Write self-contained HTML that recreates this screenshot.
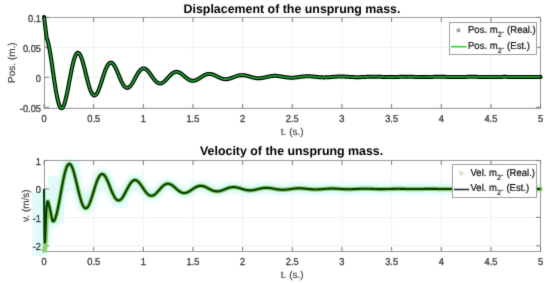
<!DOCTYPE html>
<html><head><meta charset="utf-8"><style>
html,body{margin:0;padding:0;background:#fff;width:550px;height:283px;overflow:hidden}
svg{display:block;text-rendering:geometricPrecision;transform:translateZ(0);will-change:transform}
</style></head><body>
<svg width="550" height="283" viewBox="0 0 550 283" font-family='"Liberation Sans", sans-serif'><defs><filter id="sf" x="0" y="0" width="100%" height="100%" color-interpolation-filters="sRGB"><feConvolveMatrix order="3" kernelMatrix="0.0113 0.0838 0.0113 0.0838 0.6193 0.0838 0.0113 0.0838 0.0113" edgeMode="duplicate"/></filter></defs><g filter="url(#sf)"><rect width="550" height="283" fill="#fff"/><line x1="93.70" y1="17.5" x2="93.70" y2="108.5" stroke="#f3f3f3" stroke-width="1"/><line x1="143.35" y1="17.5" x2="143.35" y2="108.5" stroke="#f3f3f3" stroke-width="1"/><line x1="193.00" y1="17.5" x2="193.00" y2="108.5" stroke="#f3f3f3" stroke-width="1"/><line x1="242.65" y1="17.5" x2="242.65" y2="108.5" stroke="#f3f3f3" stroke-width="1"/><line x1="292.30" y1="17.5" x2="292.30" y2="108.5" stroke="#f3f3f3" stroke-width="1"/><line x1="341.95" y1="17.5" x2="341.95" y2="108.5" stroke="#f3f3f3" stroke-width="1"/><line x1="391.60" y1="17.5" x2="391.60" y2="108.5" stroke="#f3f3f3" stroke-width="1"/><line x1="441.25" y1="17.5" x2="441.25" y2="108.5" stroke="#f3f3f3" stroke-width="1"/><line x1="490.90" y1="17.5" x2="490.90" y2="108.5" stroke="#f3f3f3" stroke-width="1"/><line x1="44.5" y1="47.30" x2="540.5" y2="47.30" stroke="#efefef" stroke-width="1"/><line x1="44.5" y1="77.30" x2="540.5" y2="77.30" stroke="#efefef" stroke-width="1"/><line x1="44.5" y1="107.30" x2="540.5" y2="107.30" stroke="#efefef" stroke-width="1"/><rect x="44.5" y="17.5" width="496.0" height="91.0" fill="none" stroke="#9c9c9c" stroke-width="1"/><line x1="44.05" y1="108.5" x2="44.05" y2="104.0" stroke="#7c7c7c" stroke-width="1"/><line x1="44.05" y1="17.5" x2="44.05" y2="22.0" stroke="#7c7c7c" stroke-width="1"/><line x1="93.70" y1="108.5" x2="93.70" y2="104.0" stroke="#7c7c7c" stroke-width="1"/><line x1="93.70" y1="17.5" x2="93.70" y2="22.0" stroke="#7c7c7c" stroke-width="1"/><line x1="143.35" y1="108.5" x2="143.35" y2="104.0" stroke="#7c7c7c" stroke-width="1"/><line x1="143.35" y1="17.5" x2="143.35" y2="22.0" stroke="#7c7c7c" stroke-width="1"/><line x1="193.00" y1="108.5" x2="193.00" y2="104.0" stroke="#7c7c7c" stroke-width="1"/><line x1="193.00" y1="17.5" x2="193.00" y2="22.0" stroke="#7c7c7c" stroke-width="1"/><line x1="242.65" y1="108.5" x2="242.65" y2="104.0" stroke="#7c7c7c" stroke-width="1"/><line x1="242.65" y1="17.5" x2="242.65" y2="22.0" stroke="#7c7c7c" stroke-width="1"/><line x1="292.30" y1="108.5" x2="292.30" y2="104.0" stroke="#7c7c7c" stroke-width="1"/><line x1="292.30" y1="17.5" x2="292.30" y2="22.0" stroke="#7c7c7c" stroke-width="1"/><line x1="341.95" y1="108.5" x2="341.95" y2="104.0" stroke="#7c7c7c" stroke-width="1"/><line x1="341.95" y1="17.5" x2="341.95" y2="22.0" stroke="#7c7c7c" stroke-width="1"/><line x1="391.60" y1="108.5" x2="391.60" y2="104.0" stroke="#7c7c7c" stroke-width="1"/><line x1="391.60" y1="17.5" x2="391.60" y2="22.0" stroke="#7c7c7c" stroke-width="1"/><line x1="441.25" y1="108.5" x2="441.25" y2="104.0" stroke="#7c7c7c" stroke-width="1"/><line x1="441.25" y1="17.5" x2="441.25" y2="22.0" stroke="#7c7c7c" stroke-width="1"/><line x1="490.90" y1="108.5" x2="490.90" y2="104.0" stroke="#7c7c7c" stroke-width="1"/><line x1="490.90" y1="17.5" x2="490.90" y2="22.0" stroke="#7c7c7c" stroke-width="1"/><line x1="540.55" y1="108.5" x2="540.55" y2="104.0" stroke="#7c7c7c" stroke-width="1"/><line x1="540.55" y1="17.5" x2="540.55" y2="22.0" stroke="#7c7c7c" stroke-width="1"/><line x1="44.5" y1="17.30" x2="49.0" y2="17.30" stroke="#7c7c7c" stroke-width="1"/><line x1="540.5" y1="17.30" x2="536.0" y2="17.30" stroke="#7c7c7c" stroke-width="1"/><line x1="44.5" y1="47.30" x2="49.0" y2="47.30" stroke="#7c7c7c" stroke-width="1"/><line x1="540.5" y1="47.30" x2="536.0" y2="47.30" stroke="#7c7c7c" stroke-width="1"/><line x1="44.5" y1="77.30" x2="49.0" y2="77.30" stroke="#7c7c7c" stroke-width="1"/><line x1="540.5" y1="77.30" x2="536.0" y2="77.30" stroke="#7c7c7c" stroke-width="1"/><line x1="44.5" y1="107.30" x2="49.0" y2="107.30" stroke="#7c7c7c" stroke-width="1"/><line x1="540.5" y1="107.30" x2="536.0" y2="107.30" stroke="#7c7c7c" stroke-width="1"/><path d="M44.05 17.10L44.10 17.49L44.15 17.88L44.20 18.27L44.25 18.66L44.30 19.05L44.35 19.44L44.40 19.84L44.45 20.23L44.50 20.63L44.55 21.03L44.60 21.43L44.65 21.82L44.70 22.22L44.75 22.62L44.80 23.03L44.85 23.43L44.90 23.83L44.95 24.23L45.00 24.64L45.05 25.04L45.10 25.44L45.15 25.85L45.20 26.25L45.25 26.66L45.30 27.06L45.35 27.47L45.40 27.87L45.45 28.27L45.50 28.68L45.55 29.08L45.60 29.48L45.65 29.88L45.70 30.28L45.75 30.68L45.80 31.08L45.85 31.48L45.90 31.87L45.95 32.26L46.00 32.66L46.05 33.04L46.10 33.43L46.15 33.81L46.20 34.19L46.25 34.57L46.30 34.94L46.35 35.31L46.40 35.67L46.45 36.03L46.50 36.38L46.54 36.72L46.59 37.06L46.64 37.38L46.69 37.69L46.74 37.98L46.79 38.25L46.84 38.44L46.89 38.56L46.94 38.69L46.99 38.82L47.04 38.95L47.09 39.09L47.14 39.23L47.19 39.37L47.24 39.52L47.29 39.67L47.34 39.82L47.39 39.98L47.44 40.14L47.49 40.30L47.54 40.47L47.59 40.64L47.64 40.81L47.69 40.98L47.74 41.16L47.79 41.34L47.84 41.53L47.89 41.71L47.94 41.90L47.99 42.09L48.04 42.29L48.09 42.49L48.14 42.69L48.19 42.89L48.24 43.10L48.29 43.31L48.34 43.52L48.39 43.74L48.44 43.95L48.49 44.17L48.54 44.40L48.59 44.62L48.64 44.85L48.69 45.08L48.74 45.32L48.79 45.55L48.84 45.79L48.89 46.03L48.94 46.27L48.99 46.52L49.04 46.77L49.09 47.02L49.14 47.27L49.19 47.53L49.24 47.78L49.29 48.04L49.34 48.31L49.39 48.57L49.44 48.84L49.49 49.11L49.54 49.38L49.59 49.65L49.64 49.92L49.69 50.20L49.74 50.48L49.79 50.76L49.84 51.04L49.89 51.33L49.94 51.61L49.99 51.90L50.04 52.19L50.09 52.49L50.14 52.78L50.19 53.07L50.24 53.37L50.29 53.67L50.34 53.97L50.39 54.27L50.44 54.58L50.49 54.88L50.54 55.19L50.59 55.50L50.64 55.81L50.69 56.12L50.74 56.43L50.79 56.75L50.84 57.06L50.89 57.38L50.94 57.70L50.99 58.02L51.04 58.34L51.09 58.66L51.14 58.98L51.19 59.31L51.24 59.63L51.29 59.96L51.34 60.29L51.39 60.62L51.44 60.94L51.49 61.27L51.53 61.61L51.58 61.94L51.63 62.27L51.68 62.60L51.73 62.94L51.78 63.27L51.83 63.61L51.88 63.95L51.93 64.28L51.98 64.62L52.03 64.96L52.08 65.30L52.13 65.64L52.18 65.98L52.23 66.32L52.28 66.66L52.33 67.00L52.38 67.35L52.43 67.69L52.48 68.03L52.53 68.37L52.58 68.72L52.63 69.06L52.68 69.40L52.73 69.75L52.78 70.09L52.83 70.43L52.88 70.78L52.93 71.12L52.98 71.46L53.03 71.81L53.08 72.15L53.13 72.49L53.18 72.84L53.23 73.18L53.28 73.52L53.33 73.87L53.38 74.21L53.43 74.55L53.48 74.89L53.53 75.23L53.58 75.58L53.63 75.92L53.68 76.26L53.73 76.60L53.78 76.94L53.83 77.27L53.88 77.61L53.93 77.95L53.98 78.29L54.30 80.46L54.63 82.60L54.95 84.69L55.28 86.74L55.60 88.72L55.93 90.64L56.25 92.48L56.58 94.25L56.90 95.93L57.23 97.52L57.55 99.01L57.88 100.41L58.20 101.69L58.52 102.87L58.85 103.94L59.17 104.89L59.50 105.72L59.82 106.44L60.15 107.03L60.47 107.50L60.80 107.85L61.12 108.07L61.45 108.17L61.77 108.15L62.09 108.01L62.42 107.75L62.74 107.37L63.07 106.88L63.39 106.28L63.72 105.57L64.04 104.76L64.37 103.85L64.69 102.84L65.02 101.75L65.34 100.56L65.67 99.30L65.99 97.97L66.31 96.57L66.64 95.11L66.96 93.59L67.29 92.02L67.61 90.41L67.94 88.77L68.26 87.09L68.59 85.40L68.91 83.68L69.24 81.96L69.56 80.24L69.89 78.52L70.21 76.82L70.53 75.13L70.86 73.46L71.18 71.83L71.51 70.23L71.83 68.68L72.16 67.17L72.48 65.72L72.81 64.32L73.13 62.99L73.46 61.72L73.78 60.52L74.10 59.41L74.43 58.37L74.75 57.41L75.08 56.53L75.40 55.75L75.73 55.05L76.05 54.45L76.38 53.94L76.70 53.52L77.03 53.20L77.35 52.97L77.68 52.84L78.00 52.80L78.32 52.86L78.65 53.00L78.97 53.24L79.30 53.57L79.62 53.98L79.95 54.48L80.27 55.06L80.60 55.72L80.92 56.45L81.25 57.26L81.57 58.13L81.90 59.06L82.22 60.06L82.54 61.11L82.87 62.21L83.19 63.36L83.52 64.54L83.84 65.76L84.17 67.02L84.49 68.29L84.82 69.59L85.14 70.90L85.47 72.23L85.79 73.55L86.12 74.88L86.44 76.20L86.76 77.51L87.09 78.80L87.41 80.08L87.74 81.32L88.06 82.54L88.39 83.72L88.71 84.87L89.04 85.97L89.36 87.03L89.69 88.03L90.01 88.99L90.33 89.88L90.66 90.72L90.98 91.50L91.31 92.21L91.63 92.85L91.96 93.43L92.28 93.93L92.61 94.37L92.93 94.73L93.26 95.02L93.58 95.24L93.91 95.39L94.23 95.46L94.55 95.46L94.88 95.39L95.20 95.24L95.53 95.03L95.85 94.75L96.18 94.40L96.50 93.99L96.83 93.52L97.15 92.99L97.48 92.40L97.80 91.76L98.13 91.07L98.45 90.33L98.77 89.54L99.10 88.72L99.42 87.85L99.75 86.96L100.07 86.03L100.40 85.08L100.72 84.11L101.05 83.12L101.37 82.11L101.70 81.10L102.02 80.08L102.34 79.05L102.67 78.03L102.99 77.02L103.32 76.01L103.64 75.02L103.97 74.05L104.29 73.10L104.62 72.17L104.94 71.27L105.27 70.40L105.59 69.57L105.92 68.77L106.24 68.01L106.56 67.29L106.89 66.62L107.21 66.00L107.54 65.42L107.86 64.89L108.19 64.42L108.51 64.00L108.84 63.63L109.16 63.32L109.49 63.06L109.81 62.86L110.14 62.71L110.46 62.63L110.78 62.59L111.11 62.62L111.43 62.70L111.76 62.83L112.08 63.01L112.41 63.25L112.73 63.54L113.06 63.88L113.38 64.26L113.71 64.69L114.03 65.16L114.35 65.67L114.68 66.22L115.00 66.80L115.33 67.42L115.65 68.07L115.98 68.75L116.30 69.45L116.63 70.17L116.95 70.91L117.28 71.66L117.60 72.43L117.93 73.21L118.25 74.00L118.57 74.78L118.90 75.57L119.22 76.35L119.55 77.13L119.87 77.90L120.20 78.66L120.52 79.40L120.85 80.13L121.17 80.84L121.50 81.52L121.82 82.18L122.15 82.81L122.47 83.41L122.79 83.98L123.12 84.52L123.44 85.02L123.77 85.49L124.09 85.92L124.42 86.31L124.74 86.66L125.07 86.97L125.39 87.23L125.72 87.45L126.04 87.63L126.36 87.77L126.69 87.86L127.01 87.91L127.34 87.92L127.66 87.88L127.99 87.81L128.31 87.69L128.64 87.53L128.96 87.33L129.29 87.09L129.61 86.82L129.94 86.51L130.26 86.16L130.58 85.79L130.91 85.38L131.23 84.95L131.56 84.48L131.88 84.00L132.21 83.49L132.53 82.96L132.86 82.41L133.18 81.85L133.51 81.27L133.83 80.69L134.16 80.09L134.48 79.49L134.80 78.89L135.13 78.28L135.45 77.67L135.78 77.07L136.10 76.47L136.43 75.88L136.75 75.30L137.08 74.74L137.40 74.18L137.73 73.64L138.05 73.13L138.38 72.63L138.70 72.15L139.02 71.70L139.35 71.27L139.67 70.86L140.00 70.49L140.32 70.14L140.65 69.82L140.97 69.53L141.30 69.28L141.62 69.06L141.95 68.86L142.27 68.71L142.59 68.58L142.92 68.49L143.24 68.43L143.57 68.41L143.89 68.42L144.22 68.46L144.54 68.53L144.87 68.64L145.19 68.77L145.52 68.94L145.84 69.13L146.17 69.36L146.49 69.61L146.81 69.88L147.14 70.18L147.46 70.50L147.79 70.85L148.11 71.21L148.44 71.59L148.76 71.99L149.09 72.41L149.41 72.83L149.74 73.27L150.06 73.72L150.39 74.17L150.71 74.63L151.03 75.10L151.36 75.57L151.68 76.03L152.01 76.50L152.33 76.96L152.66 77.42L152.98 77.87L153.31 78.31L153.63 78.75L153.96 79.17L154.28 79.58L154.60 79.97L154.93 80.35L155.25 80.71L155.58 81.05L155.90 81.37L156.23 81.68L156.55 81.96L156.88 82.21L157.20 82.45L157.53 82.66L157.85 82.85L158.18 83.01L158.50 83.14L158.82 83.26L159.15 83.34L159.47 83.40L159.80 83.43L160.12 83.44L160.45 83.43L160.77 83.38L161.10 83.32L161.42 83.23L161.75 83.11L162.07 82.97L162.40 82.81L162.72 82.63L163.04 82.43L163.37 82.21L163.69 81.98L164.02 81.72L164.34 81.45L164.67 81.16L164.99 80.86L165.32 80.55L165.64 80.23L165.97 79.89L166.29 79.55L166.61 79.21L166.94 78.85L167.26 78.50L167.59 78.14L167.91 77.78L168.24 77.42L168.56 77.06L168.89 76.70L169.21 76.35L169.54 76.01L169.86 75.67L170.19 75.34L170.51 75.02L170.83 74.71L171.16 74.41L171.48 74.13L171.81 73.85L172.13 73.60L172.46 73.35L172.78 73.13L173.11 72.92L173.43 72.73L173.76 72.55L174.08 72.40L174.41 72.26L174.73 72.15L175.05 72.05L175.38 71.97L175.70 71.92L176.03 71.88L176.35 71.86L176.68 71.86L177.00 71.88L177.33 71.92L177.65 71.98L177.98 72.06L178.30 72.16L178.63 72.27L178.95 72.40L179.27 72.54L179.60 72.71L179.92 72.88L180.25 73.07L180.57 73.27L180.90 73.49L181.22 73.71L181.55 73.95L181.87 74.19L182.20 74.44L182.52 74.70L182.84 74.97L183.17 75.24L183.49 75.51L183.82 75.78L184.14 76.06L184.47 76.34L184.79 76.62L185.12 76.89L185.44 77.16L185.77 77.43L186.09 77.70L186.42 77.95L186.74 78.21L187.06 78.45L187.39 78.68L187.71 78.91L188.04 79.13L188.36 79.33L188.69 79.52L189.01 79.71L189.34 79.87L189.66 80.03L189.99 80.17L190.31 80.30L190.64 80.41L190.96 80.51L191.28 80.59L191.61 80.66L191.93 80.72L192.26 80.75L192.58 80.78L192.91 80.78L193.23 80.78L193.56 80.75L193.88 80.72L194.21 80.66L194.53 80.60L194.85 80.52L195.18 80.43L195.50 80.32L195.83 80.21L196.15 80.08L196.48 79.94L196.80 79.79L197.13 79.63L197.45 79.46L197.78 79.28L198.10 79.10L198.43 78.91L198.75 78.71L199.07 78.51L199.40 78.30L199.72 78.09L200.05 77.88L200.37 77.67L200.70 77.46L201.02 77.24L201.35 77.03L201.67 76.82L202.00 76.61L202.32 76.40L202.65 76.20L202.97 76.01L203.29 75.81L203.62 75.63L203.94 75.45L204.27 75.28L204.59 75.12L204.92 74.96L205.24 74.82L205.57 74.68L205.89 74.56L206.22 74.44L206.54 74.34L206.86 74.24L207.19 74.16L207.51 74.09L207.84 74.03L208.16 73.98L208.49 73.95L208.81 73.92L209.14 73.91L209.46 73.91L209.79 73.92L210.11 73.94L210.44 73.97L210.76 74.02L211.08 74.07L211.41 74.14L211.73 74.21L212.06 74.30L212.38 74.39L212.71 74.50L213.03 74.61L213.36 74.73L213.68 74.85L214.01 74.98L214.33 75.12L214.66 75.27L214.98 75.42L215.30 75.57L215.63 75.73L215.95 75.89L216.28 76.05L216.60 76.21L216.93 76.38L217.25 76.54L217.58 76.70L217.90 76.87L218.23 77.03L218.55 77.19L218.87 77.35L219.20 77.50L219.52 77.65L219.85 77.80L220.17 77.94L220.50 78.07L220.82 78.20L221.15 78.32L221.47 78.44L221.80 78.55L222.12 78.65L222.45 78.74L222.77 78.83L223.09 78.91L223.42 78.97L223.74 79.03L224.07 79.09L224.39 79.13L224.72 79.16L225.04 79.18L225.37 79.20L225.69 79.21L226.02 79.20L226.34 79.19L226.67 79.17L226.99 79.14L227.31 79.10L227.64 79.06L227.96 79.00L228.29 78.94L228.61 78.87L228.94 78.80L229.26 78.72L229.59 78.63L229.91 78.53L230.24 78.44L230.56 78.33L230.89 78.22L231.21 78.11L231.53 77.99L231.86 77.88L232.18 77.75L232.51 77.63L232.83 77.50L233.16 77.38L233.48 77.25L233.81 77.12L234.13 77.00L234.46 76.87L234.78 76.75L235.10 76.63L235.43 76.51L235.75 76.39L236.08 76.27L236.40 76.16L236.73 76.06L237.05 75.96L237.38 75.86L237.70 75.77L238.03 75.68L238.35 75.60L238.68 75.52L239.00 75.45L239.32 75.39L239.65 75.33L239.97 75.28L240.30 75.24L240.62 75.20L240.95 75.17L241.27 75.15L241.60 75.13L241.92 75.13L242.25 75.12L242.57 75.13L242.90 75.14L243.22 75.16L243.54 75.18L243.87 75.22L244.19 75.25L244.52 75.30L244.84 75.35L245.17 75.40L245.49 75.46L245.82 75.53L246.14 75.60L246.47 75.67L246.79 75.75L247.11 75.83L247.44 75.92L247.76 76.00L248.09 76.09L248.41 76.19L248.74 76.28L249.06 76.38L249.39 76.47L249.71 76.57L250.04 76.67L250.36 76.77L250.69 76.87L251.01 76.96L251.33 77.06L251.66 77.15L251.98 77.24L252.31 77.33L252.63 77.42L252.96 77.50L253.28 77.58L253.61 77.66L253.93 77.73L254.26 77.80L254.58 77.87L254.91 77.93L255.23 77.99L255.55 78.04L255.88 78.08L256.20 78.13L256.53 78.16L256.85 78.19L257.18 78.22L257.50 78.24L257.83 78.25L258.15 78.26L258.48 78.27L258.80 78.27L259.12 78.26L259.45 78.25L259.77 78.23L260.10 78.21L260.42 78.19L260.75 78.15L261.07 78.12L261.40 78.08L261.72 78.03L262.05 77.99L262.37 77.94L262.70 77.88L263.02 77.82L263.34 77.76L263.67 77.70L263.99 77.63L264.32 77.56L264.64 77.49L264.97 77.42L265.29 77.35L265.62 77.27L265.94 77.20L266.27 77.12L266.59 77.05L266.92 76.97L267.24 76.90L267.56 76.82L267.89 76.75L268.21 76.68L268.54 76.61L268.86 76.54L269.19 76.47L269.51 76.41L269.84 76.35L270.16 76.29L270.49 76.24L270.81 76.18L271.13 76.13L271.46 76.09L271.78 76.05L272.11 76.01L272.43 75.97L272.76 75.94L273.08 75.92L273.41 75.90L273.73 75.88L274.06 75.86L274.38 75.85L274.71 75.85L275.03 75.85L275.35 75.85L275.68 75.85L276.00 75.86L276.33 75.88L276.65 75.90L276.98 75.92L277.30 75.94L277.63 75.97L277.95 76.01L278.28 76.04L278.60 76.08L278.93 76.12L279.25 76.16L279.57 76.21L279.90 76.26L280.22 76.31L280.55 76.36L280.87 76.41L281.20 76.47L281.52 76.52L281.85 76.58L282.17 76.64L282.50 76.70L282.82 76.75L283.15 76.81L283.47 76.87L283.79 76.93L284.12 76.98L284.44 77.04L284.77 77.09L285.09 77.15L285.42 77.20L285.74 77.25L286.07 77.30L286.39 77.34L286.72 77.39L287.04 77.43L287.36 77.47L287.69 77.51L288.01 77.54L288.34 77.57L288.66 77.60L288.99 77.62L289.31 77.65L289.64 77.66L289.96 77.68L290.29 77.69L290.61 77.70L290.94 77.71L291.26 77.71L291.58 77.71L291.91 77.71L292.23 77.70L292.56 77.69L292.88 77.68L293.21 77.67L293.53 77.65L293.86 77.63L294.18 77.60L294.51 77.58L294.83 77.55L295.16 77.52L295.48 77.49L295.80 77.45L296.13 77.42L296.45 77.38L296.78 77.34L297.10 77.30L297.43 77.26L297.75 77.22L298.08 77.17L298.40 77.13L298.73 77.08L299.05 77.04L299.37 76.99L299.70 76.95L300.02 76.90L300.35 76.86L300.67 76.82L301.00 76.77L301.32 76.73L301.65 76.69L301.97 76.65L302.30 76.62L302.62 76.58L302.95 76.54L303.27 76.51L303.59 76.48L303.92 76.45L304.24 76.42L304.57 76.40L304.89 76.37L305.22 76.35L305.54 76.34L305.87 76.32L306.19 76.31L306.52 76.29L306.84 76.29L307.17 76.28L307.49 76.28L307.81 76.27L308.14 76.28L308.46 76.28L308.79 76.28L309.11 76.29L309.44 76.30L309.76 76.32L310.09 76.33L310.41 76.35L310.74 76.37L311.06 76.39L311.38 76.41L311.71 76.43L312.03 76.46L312.36 76.49L312.68 76.51L313.01 76.54L313.33 76.57L313.66 76.61L313.98 76.64L314.31 76.67L314.63 76.70L314.96 76.74L315.28 76.77L315.60 76.81L315.93 76.84L316.25 76.88L316.58 76.91L316.90 76.94L317.23 76.98L317.55 77.01L317.88 77.04L318.20 77.07L318.53 77.10L318.85 77.13L319.18 77.16L319.50 77.19L319.82 77.21L320.15 77.23L320.47 77.26L320.80 77.28L321.12 77.29L321.45 77.31L321.77 77.33L322.10 77.34L322.42 77.35L322.75 77.36L323.07 77.37L323.40 77.38L323.72 77.38L324.04 77.38L324.37 77.38L324.69 77.38L325.02 77.38L325.34 77.37L325.67 77.36L325.99 77.36L326.32 77.35L326.64 77.33L326.97 77.32L327.29 77.31L327.61 77.29L327.94 77.27L328.26 77.25L328.59 77.23L328.91 77.21L329.24 77.19L329.56 77.16L329.89 77.14L330.21 77.12L330.54 77.09L330.86 77.07L331.19 77.04L331.51 77.01L331.83 76.99L332.16 76.96L332.48 76.93L332.81 76.91L333.13 76.88L333.46 76.86L333.78 76.83L334.11 76.81L334.43 76.78L334.76 76.76L335.08 76.73L335.41 76.71L335.73 76.69L336.05 76.67L336.38 76.65L336.70 76.64L337.03 76.62L337.35 76.60L337.68 76.59L338.00 76.58L338.33 76.57L338.65 76.56L338.98 76.55L339.30 76.54L339.62 76.54L339.95 76.53L340.27 76.53L340.60 76.53L340.92 76.53L341.25 76.53L341.57 76.53L341.90 76.54L342.22 76.54L342.55 76.55L342.87 76.56L343.20 76.57L343.52 76.58L343.84 76.59L344.17 76.61L344.49 76.62L344.82 76.64L345.14 76.65L345.47 76.67L345.79 76.69L346.12 76.70L346.44 76.72L346.77 76.74L347.09 76.76L347.42 76.78L347.74 76.80L348.06 76.82L348.39 76.84L348.71 76.86L349.04 76.88L349.36 76.90L349.69 76.92L350.01 76.94L350.34 76.96L350.66 76.98L350.99 77.00L351.31 77.02L351.63 77.03L351.96 77.05L352.28 77.07L352.61 77.08L352.93 77.10L353.26 77.11L353.58 77.12L353.91 77.13L354.23 77.14L354.56 77.15L354.88 77.16L355.21 77.17L355.53 77.17L355.85 77.18L356.18 77.18L356.50 77.18L356.83 77.19L357.15 77.19L357.48 77.19L357.80 77.18L358.13 77.18L358.45 77.18L358.78 77.17L359.10 77.17L359.43 77.16L359.75 77.15L360.07 77.14L360.40 77.13L360.72 77.12L361.05 77.11L361.37 77.10L361.70 77.09L362.02 77.07L362.35 77.06L362.67 77.05L363.00 77.03L363.32 77.02L363.64 77.00L363.97 76.99L364.29 76.97L364.62 76.95L364.94 76.94L365.27 76.92L365.59 76.91L365.92 76.89L366.24 76.88L366.57 76.86L366.89 76.85L367.22 76.83L367.54 76.82L367.86 76.80L368.19 76.79L368.51 76.78L368.84 76.77L369.16 76.76L369.49 76.74L369.81 76.73L370.14 76.73L370.46 76.72L370.79 76.71L371.11 76.70L371.44 76.70L371.76 76.69L372.08 76.69L372.41 76.68L372.73 76.68L373.06 76.68L373.38 76.68L373.71 76.68L374.03 76.68L374.36 76.68L374.68 76.68L375.01 76.69L375.33 76.69L375.66 76.70L375.98 76.70L376.30 76.71L376.63 76.72L376.95 76.72L377.28 76.73L377.60 76.74L377.93 76.75L378.25 76.76L378.58 76.77L378.90 76.78L379.23 76.79L379.55 76.80L379.87 76.82L380.20 76.83L380.52 76.84L380.85 76.85L381.17 76.86L381.50 76.88L381.82 76.89L382.15 76.90L382.47 76.91L382.80 76.92L383.12 76.93L383.45 76.95L383.77 76.96L384.09 76.97L384.42 76.98L384.74 76.99L385.07 77.00L385.39 77.01L385.72 77.01L386.04 77.02L386.37 77.03L386.69 77.04L387.02 77.04L387.34 77.05L387.67 77.05L387.99 77.06L388.31 77.06L388.64 77.06L388.96 77.07L389.29 77.07L389.61 77.07L389.94 77.07L390.26 77.07L390.59 77.07L390.91 77.07L391.24 77.06L391.56 77.06L391.88 77.06L392.21 77.05L392.53 77.05L392.86 77.04L393.18 77.04L393.51 77.03L393.83 77.03L394.16 77.02L394.48 77.01L394.81 77.00L395.13 77.00L395.46 76.99L395.78 76.98L396.10 76.97L396.43 76.96L396.75 76.95L397.08 76.94L397.40 76.93L397.73 76.92L398.05 76.91L398.38 76.91L398.70 76.90L399.03 76.89L399.35 76.88L399.68 76.87L400.00 76.86L400.32 76.85L400.65 76.84L400.97 76.84L401.30 76.83L401.62 76.82L401.95 76.82L402.27 76.81L402.60 76.80L402.92 76.80L403.25 76.79L403.57 76.79L403.89 76.78L404.22 76.78L404.54 76.78L404.87 76.77L405.19 76.77L405.52 76.77L405.84 76.77L406.17 76.77L406.49 76.77L406.82 76.77L407.14 76.77L407.47 76.77L407.79 76.77L408.11 76.78L408.44 76.78L408.76 76.78L409.09 76.79L409.41 76.79L409.74 76.79L410.06 76.80L410.39 76.80L410.71 76.81L411.04 76.82L411.36 76.82L411.69 76.83L412.01 76.84L412.33 76.84L412.66 76.85L412.98 76.86L413.31 76.86L413.63 76.87L413.96 76.88L414.28 76.88L414.61 76.89L414.93 76.90L415.26 76.91L415.58 76.91L415.90 76.92L416.23 76.93L416.55 76.93L416.88 76.94L417.20 76.95L417.53 76.95L417.85 76.96L418.18 76.96L418.50 76.97L418.83 76.97L419.15 76.98L419.48 76.98L419.80 76.98L420.12 76.99L420.45 76.99L420.77 76.99L421.10 77.00L421.42 77.00L421.75 77.00L422.07 77.00L422.40 77.00L422.72 77.00L423.05 77.00L423.37 77.00L423.70 77.00L424.02 77.00L424.34 77.00L424.67 76.99L424.99 76.99L425.32 76.99L425.64 76.99L425.97 76.98L426.29 76.98L426.62 76.98L426.94 76.97L427.27 76.97L427.59 76.96L427.92 76.96L428.24 76.95L428.56 76.95L428.89 76.94L429.21 76.94L429.54 76.93L429.86 76.93L430.19 76.92L430.51 76.92L430.84 76.91L431.16 76.90L431.49 76.90L431.81 76.89L432.13 76.89L432.46 76.88L432.78 76.88L433.11 76.87L433.43 76.87L433.76 76.86L434.08 76.86L434.41 76.85L434.73 76.85L435.06 76.85L435.38 76.84L435.71 76.84L436.03 76.84L436.35 76.83L436.68 76.83L437.00 76.83L437.33 76.83L437.65 76.83L437.98 76.82L438.30 76.82L438.63 76.82L438.95 76.82L439.28 76.82L439.60 76.82L439.93 76.82L440.25 76.82L440.57 76.82L440.90 76.83L441.22 76.83L441.55 76.83L441.87 76.83L442.20 76.83L442.52 76.84L442.85 76.84L443.17 76.84L443.50 76.85L443.82 76.85L444.14 76.85L444.47 76.86L444.79 76.86L445.12 76.86L445.44 76.87L445.77 76.87L446.09 76.88L446.42 76.88L446.74 76.89L447.07 76.89L447.39 76.89L447.72 76.90L448.04 76.90L448.36 76.91L448.69 76.91L449.01 76.91L449.34 76.92L449.66 76.92L449.99 76.93L450.31 76.93L450.64 76.93L450.96 76.94L451.29 76.94L451.61 76.94L451.94 76.95L452.26 76.95L452.58 76.95L452.91 76.95L453.23 76.95L453.56 76.96L453.88 76.96L454.21 76.96L454.53 76.96L454.86 76.96L455.18 76.96L455.51 76.96L455.83 76.96L456.15 76.96L456.48 76.96L456.80 76.96L457.13 76.96L457.45 76.96L457.78 76.95L458.10 76.95L458.43 76.95L458.75 76.95L459.08 76.95L459.40 76.95L459.73 76.94L460.05 76.94L460.37 76.94L460.70 76.93L461.02 76.93L461.35 76.93L461.67 76.93L462.00 76.92L462.32 76.92L462.65 76.92L462.97 76.91L463.30 76.91L463.62 76.91L463.95 76.90L464.27 76.90L464.59 76.90L464.92 76.89L465.24 76.89L465.57 76.89L465.89 76.88L466.22 76.88L466.54 76.88L466.87 76.88L467.19 76.87L467.52 76.87L467.84 76.87L468.17 76.87L468.49 76.86L468.81 76.86L469.14 76.86L469.46 76.86L469.79 76.86L470.11 76.86L470.44 76.86L470.76 76.86L471.09 76.85L471.41 76.85L471.74 76.85L472.06 76.85L472.38 76.85L472.71 76.85L473.03 76.85L473.36 76.86L473.68 76.86L474.01 76.86L474.33 76.86L474.66 76.86L474.98 76.86L475.31 76.86L475.63 76.86L475.96 76.87L476.28 76.87L476.60 76.87L476.93 76.87L477.25 76.87L477.58 76.88L477.90 76.88L478.23 76.88L478.55 76.88L478.88 76.89L479.20 76.89L479.53 76.89L479.85 76.89L480.18 76.90L480.50 76.90L480.82 76.90L481.15 76.90L481.47 76.91L481.80 76.91L482.12 76.91L482.45 76.91L482.77 76.92L483.10 76.92L483.42 76.92L483.75 76.92L484.07 76.92L484.39 76.92L484.72 76.93L485.04 76.93L485.37 76.93L485.69 76.93L486.02 76.93L486.34 76.93L486.67 76.93L486.99 76.93L487.32 76.93L487.64 76.94L487.97 76.94L488.29 76.94L488.61 76.94L488.94 76.94L489.26 76.94L489.59 76.93L489.91 76.93L490.24 76.93L490.56 76.93L490.89 76.93L491.21 76.93L491.54 76.93L491.86 76.93L492.19 76.93L492.51 76.93L492.83 76.92L493.16 76.92L493.48 76.92L493.81 76.92L494.13 76.92L494.46 76.92L494.78 76.91L495.11 76.91L495.43 76.91L495.76 76.91L496.08 76.91L496.40 76.90L496.73 76.90L497.05 76.90L497.38 76.90L497.70 76.90L498.03 76.89L498.35 76.89L498.68 76.89L499.00 76.89L499.33 76.89L499.65 76.89L499.98 76.88L500.30 76.88L500.62 76.88L500.95 76.88L501.27 76.88L501.60 76.88L501.92 76.88L502.25 76.88L502.57 76.88L502.90 76.87L503.22 76.87L503.55 76.87L503.87 76.87L504.20 76.87L504.52 76.87L504.84 76.87L505.17 76.87L505.49 76.87L505.82 76.87L506.14 76.87L506.47 76.87L506.79 76.87L507.12 76.88L507.44 76.88L507.77 76.88L508.09 76.88L508.41 76.88L508.74 76.88L509.06 76.88L509.39 76.88L509.71 76.88L510.04 76.88L510.36 76.89L510.69 76.89L511.01 76.89L511.34 76.89L511.66 76.89L511.99 76.89L512.31 76.89L512.63 76.90L512.96 76.90L513.28 76.90L513.61 76.90L513.93 76.90L514.26 76.90L514.58 76.90L514.91 76.91L515.23 76.91L515.56 76.91L515.88 76.91L516.21 76.91L516.53 76.91L516.85 76.91L517.18 76.91L517.50 76.92L517.83 76.92L518.15 76.92L518.48 76.92L518.80 76.92L519.13 76.92L519.45 76.92L519.78 76.92L520.10 76.92L520.43 76.92L520.75 76.92L521.07 76.92L521.40 76.92L521.72 76.92L522.05 76.92L522.37 76.92L522.70 76.92L523.02 76.92L523.35 76.92L523.67 76.92L524.00 76.92L524.32 76.92L524.64 76.92L524.97 76.92L525.29 76.92L525.62 76.91L525.94 76.91L526.27 76.91L526.59 76.91L526.92 76.91L527.24 76.91L527.57 76.91L527.89 76.91L528.22 76.91L528.54 76.90L528.86 76.90L529.19 76.90L529.51 76.90L529.84 76.90L530.16 76.90L530.49 76.90L530.81 76.90L531.14 76.90L531.46 76.89L531.79 76.89L532.11 76.89L532.44 76.89L532.76 76.89L533.08 76.89L533.41 76.89L533.73 76.89L534.06 76.89L534.38 76.89L534.71 76.89L535.03 76.89L535.36 76.89L535.68 76.88L536.01 76.88L536.33 76.88L536.65 76.88L536.98 76.88L537.30 76.88L537.63 76.88L537.95 76.88L538.28 76.88L538.60 76.88L538.93 76.88L539.25 76.88L539.58 76.88L539.90 76.89L540.23 76.89L540.55 76.89" fill="none" stroke="#000" stroke-width="4.0" stroke-linejoin="round" stroke-linecap="round"/><path d="M44.05 17.10L44.10 17.49L44.15 17.88L44.20 18.27L44.25 18.66L44.30 19.05L44.35 19.44L44.40 19.84L44.45 20.23L44.50 20.63L44.55 21.03L44.60 21.43L44.65 21.82L44.70 22.22L44.75 22.62L44.80 23.03L44.85 23.43L44.90 23.83L44.95 24.23L45.00 24.64L45.05 25.04L45.10 25.44L45.15 25.85L45.20 26.25L45.25 26.66L45.30 27.06L45.35 27.47L45.40 27.87L45.45 28.27L45.50 28.68L45.55 29.08L45.60 29.48L45.65 29.88L45.70 30.28L45.75 30.68L45.80 31.08L45.85 31.48L45.90 31.87L45.95 32.26L46.00 32.66L46.05 33.04L46.10 33.43L46.15 33.81L46.20 34.19L46.25 34.57L46.30 34.94L46.35 35.31L46.40 35.67L46.45 36.03L46.50 36.38L46.54 36.72L46.59 37.06L46.64 37.38L46.69 37.69L46.74 37.98L46.79 38.25L46.84 38.44L46.89 38.56L46.94 38.69L46.99 38.82L47.04 38.95L47.09 39.09L47.14 39.23L47.19 39.37L47.24 39.52L47.29 39.67L47.34 39.82L47.39 39.98L47.44 40.14L47.49 40.30L47.54 40.47L47.59 40.64L47.64 40.81L47.69 40.98L47.74 41.16L47.79 41.34L47.84 41.53L47.89 41.71L47.94 41.90L47.99 42.09L48.04 42.29L48.09 42.49L48.14 42.69L48.19 42.89L48.24 43.10L48.29 43.31L48.34 43.52L48.39 43.74L48.44 43.95L48.49 44.17L48.54 44.40L48.59 44.62L48.64 44.85L48.69 45.08L48.74 45.32L48.79 45.55L48.84 45.79L48.89 46.03L48.94 46.27L48.99 46.52L49.04 46.77L49.09 47.02L49.14 47.27L49.19 47.53L49.24 47.78L49.29 48.04L49.34 48.31L49.39 48.57L49.44 48.84L49.49 49.11L49.54 49.38L49.59 49.65L49.64 49.92L49.69 50.20L49.74 50.48L49.79 50.76L49.84 51.04L49.89 51.33L49.94 51.61L49.99 51.90L50.04 52.19L50.09 52.49L50.14 52.78L50.19 53.07L50.24 53.37L50.29 53.67L50.34 53.97L50.39 54.27L50.44 54.58L50.49 54.88L50.54 55.19L50.59 55.50L50.64 55.81L50.69 56.12L50.74 56.43L50.79 56.75L50.84 57.06L50.89 57.38L50.94 57.70L50.99 58.02L51.04 58.34L51.09 58.66L51.14 58.98L51.19 59.31L51.24 59.63L51.29 59.96L51.34 60.29L51.39 60.62L51.44 60.94L51.49 61.27L51.53 61.61L51.58 61.94L51.63 62.27L51.68 62.60L51.73 62.94L51.78 63.27L51.83 63.61L51.88 63.95L51.93 64.28L51.98 64.62L52.03 64.96L52.08 65.30L52.13 65.64L52.18 65.98L52.23 66.32L52.28 66.66L52.33 67.00L52.38 67.35L52.43 67.69L52.48 68.03L52.53 68.37L52.58 68.72L52.63 69.06L52.68 69.40L52.73 69.75L52.78 70.09L52.83 70.43L52.88 70.78L52.93 71.12L52.98 71.46L53.03 71.81L53.08 72.15L53.13 72.49L53.18 72.84L53.23 73.18L53.28 73.52L53.33 73.87L53.38 74.21L53.43 74.55L53.48 74.89L53.53 75.23L53.58 75.58L53.63 75.92L53.68 76.26L53.73 76.60L53.78 76.94L53.83 77.27L53.88 77.61L53.93 77.95L53.98 78.29L54.30 80.46L54.63 82.60L54.95 84.69L55.28 86.74L55.60 88.72L55.93 90.64L56.25 92.48L56.58 94.25L56.90 95.93L57.23 97.52L57.55 99.01L57.88 100.41L58.20 101.69L58.52 102.87L58.85 103.94L59.17 104.89L59.50 105.72L59.82 106.44L60.15 107.03L60.47 107.50L60.80 107.85L61.12 108.07L61.45 108.17L61.77 108.15L62.09 108.01L62.42 107.75L62.74 107.37L63.07 106.88L63.39 106.28L63.72 105.57L64.04 104.76L64.37 103.85L64.69 102.84L65.02 101.75L65.34 100.56L65.67 99.30L65.99 97.97L66.31 96.57L66.64 95.11L66.96 93.59L67.29 92.02L67.61 90.41L67.94 88.77L68.26 87.09L68.59 85.40L68.91 83.68L69.24 81.96L69.56 80.24L69.89 78.52L70.21 76.82L70.53 75.13L70.86 73.46L71.18 71.83L71.51 70.23L71.83 68.68L72.16 67.17L72.48 65.72L72.81 64.32L73.13 62.99L73.46 61.72L73.78 60.52L74.10 59.41L74.43 58.37L74.75 57.41L75.08 56.53L75.40 55.75L75.73 55.05L76.05 54.45L76.38 53.94L76.70 53.52L77.03 53.20L77.35 52.97L77.68 52.84L78.00 52.80L78.32 52.86L78.65 53.00L78.97 53.24L79.30 53.57L79.62 53.98L79.95 54.48L80.27 55.06L80.60 55.72L80.92 56.45L81.25 57.26L81.57 58.13L81.90 59.06L82.22 60.06L82.54 61.11L82.87 62.21L83.19 63.36L83.52 64.54L83.84 65.76L84.17 67.02L84.49 68.29L84.82 69.59L85.14 70.90L85.47 72.23L85.79 73.55L86.12 74.88L86.44 76.20L86.76 77.51L87.09 78.80L87.41 80.08L87.74 81.32L88.06 82.54L88.39 83.72L88.71 84.87L89.04 85.97L89.36 87.03L89.69 88.03L90.01 88.99L90.33 89.88L90.66 90.72L90.98 91.50L91.31 92.21L91.63 92.85L91.96 93.43L92.28 93.93L92.61 94.37L92.93 94.73L93.26 95.02L93.58 95.24L93.91 95.39L94.23 95.46L94.55 95.46L94.88 95.39L95.20 95.24L95.53 95.03L95.85 94.75L96.18 94.40L96.50 93.99L96.83 93.52L97.15 92.99L97.48 92.40L97.80 91.76L98.13 91.07L98.45 90.33L98.77 89.54L99.10 88.72L99.42 87.85L99.75 86.96L100.07 86.03L100.40 85.08L100.72 84.11L101.05 83.12L101.37 82.11L101.70 81.10L102.02 80.08L102.34 79.05L102.67 78.03L102.99 77.02L103.32 76.01L103.64 75.02L103.97 74.05L104.29 73.10L104.62 72.17L104.94 71.27L105.27 70.40L105.59 69.57L105.92 68.77L106.24 68.01L106.56 67.29L106.89 66.62L107.21 66.00L107.54 65.42L107.86 64.89L108.19 64.42L108.51 64.00L108.84 63.63L109.16 63.32L109.49 63.06L109.81 62.86L110.14 62.71L110.46 62.63L110.78 62.59L111.11 62.62L111.43 62.70L111.76 62.83L112.08 63.01L112.41 63.25L112.73 63.54L113.06 63.88L113.38 64.26L113.71 64.69L114.03 65.16L114.35 65.67L114.68 66.22L115.00 66.80L115.33 67.42L115.65 68.07L115.98 68.75L116.30 69.45L116.63 70.17L116.95 70.91L117.28 71.66L117.60 72.43L117.93 73.21L118.25 74.00L118.57 74.78L118.90 75.57L119.22 76.35L119.55 77.13L119.87 77.90L120.20 78.66L120.52 79.40L120.85 80.13L121.17 80.84L121.50 81.52L121.82 82.18L122.15 82.81L122.47 83.41L122.79 83.98L123.12 84.52L123.44 85.02L123.77 85.49L124.09 85.92L124.42 86.31L124.74 86.66L125.07 86.97L125.39 87.23L125.72 87.45L126.04 87.63L126.36 87.77L126.69 87.86L127.01 87.91L127.34 87.92L127.66 87.88L127.99 87.81L128.31 87.69L128.64 87.53L128.96 87.33L129.29 87.09L129.61 86.82L129.94 86.51L130.26 86.16L130.58 85.79L130.91 85.38L131.23 84.95L131.56 84.48L131.88 84.00L132.21 83.49L132.53 82.96L132.86 82.41L133.18 81.85L133.51 81.27L133.83 80.69L134.16 80.09L134.48 79.49L134.80 78.89L135.13 78.28L135.45 77.67L135.78 77.07L136.10 76.47L136.43 75.88L136.75 75.30L137.08 74.74L137.40 74.18L137.73 73.64L138.05 73.13L138.38 72.63L138.70 72.15L139.02 71.70L139.35 71.27L139.67 70.86L140.00 70.49L140.32 70.14L140.65 69.82L140.97 69.53L141.30 69.28L141.62 69.06L141.95 68.86L142.27 68.71L142.59 68.58L142.92 68.49L143.24 68.43L143.57 68.41L143.89 68.42L144.22 68.46L144.54 68.53L144.87 68.64L145.19 68.77L145.52 68.94L145.84 69.13L146.17 69.36L146.49 69.61L146.81 69.88L147.14 70.18L147.46 70.50L147.79 70.85L148.11 71.21L148.44 71.59L148.76 71.99L149.09 72.41L149.41 72.83L149.74 73.27L150.06 73.72L150.39 74.17L150.71 74.63L151.03 75.10L151.36 75.57L151.68 76.03L152.01 76.50L152.33 76.96L152.66 77.42L152.98 77.87L153.31 78.31L153.63 78.75L153.96 79.17L154.28 79.58L154.60 79.97L154.93 80.35L155.25 80.71L155.58 81.05L155.90 81.37L156.23 81.68L156.55 81.96L156.88 82.21L157.20 82.45L157.53 82.66L157.85 82.85L158.18 83.01L158.50 83.14L158.82 83.26L159.15 83.34L159.47 83.40L159.80 83.43L160.12 83.44L160.45 83.43L160.77 83.38L161.10 83.32L161.42 83.23L161.75 83.11L162.07 82.97L162.40 82.81L162.72 82.63L163.04 82.43L163.37 82.21L163.69 81.98L164.02 81.72L164.34 81.45L164.67 81.16L164.99 80.86L165.32 80.55L165.64 80.23L165.97 79.89L166.29 79.55L166.61 79.21L166.94 78.85L167.26 78.50L167.59 78.14L167.91 77.78L168.24 77.42L168.56 77.06L168.89 76.70L169.21 76.35L169.54 76.01L169.86 75.67L170.19 75.34L170.51 75.02L170.83 74.71L171.16 74.41L171.48 74.13L171.81 73.85L172.13 73.60L172.46 73.35L172.78 73.13L173.11 72.92L173.43 72.73L173.76 72.55L174.08 72.40L174.41 72.26L174.73 72.15L175.05 72.05L175.38 71.97L175.70 71.92L176.03 71.88L176.35 71.86L176.68 71.86L177.00 71.88L177.33 71.92L177.65 71.98L177.98 72.06L178.30 72.16L178.63 72.27L178.95 72.40L179.27 72.54L179.60 72.71L179.92 72.88L180.25 73.07L180.57 73.27L180.90 73.49L181.22 73.71L181.55 73.95L181.87 74.19L182.20 74.44L182.52 74.70L182.84 74.97L183.17 75.24L183.49 75.51L183.82 75.78L184.14 76.06L184.47 76.34L184.79 76.62L185.12 76.89L185.44 77.16L185.77 77.43L186.09 77.70L186.42 77.95L186.74 78.21L187.06 78.45L187.39 78.68L187.71 78.91L188.04 79.13L188.36 79.33L188.69 79.52L189.01 79.71L189.34 79.87L189.66 80.03L189.99 80.17L190.31 80.30L190.64 80.41L190.96 80.51L191.28 80.59L191.61 80.66L191.93 80.72L192.26 80.75L192.58 80.78L192.91 80.78L193.23 80.78L193.56 80.75L193.88 80.72L194.21 80.66L194.53 80.60L194.85 80.52L195.18 80.43L195.50 80.32L195.83 80.21L196.15 80.08L196.48 79.94L196.80 79.79L197.13 79.63L197.45 79.46L197.78 79.28L198.10 79.10L198.43 78.91L198.75 78.71L199.07 78.51L199.40 78.30L199.72 78.09L200.05 77.88L200.37 77.67L200.70 77.46L201.02 77.24L201.35 77.03L201.67 76.82L202.00 76.61L202.32 76.40L202.65 76.20L202.97 76.01L203.29 75.81L203.62 75.63L203.94 75.45L204.27 75.28L204.59 75.12L204.92 74.96L205.24 74.82L205.57 74.68L205.89 74.56L206.22 74.44L206.54 74.34L206.86 74.24L207.19 74.16L207.51 74.09L207.84 74.03L208.16 73.98L208.49 73.95L208.81 73.92L209.14 73.91L209.46 73.91L209.79 73.92L210.11 73.94L210.44 73.97L210.76 74.02L211.08 74.07L211.41 74.14L211.73 74.21L212.06 74.30L212.38 74.39L212.71 74.50L213.03 74.61L213.36 74.73L213.68 74.85L214.01 74.98L214.33 75.12L214.66 75.27L214.98 75.42L215.30 75.57L215.63 75.73L215.95 75.89L216.28 76.05L216.60 76.21L216.93 76.38L217.25 76.54L217.58 76.70L217.90 76.87L218.23 77.03L218.55 77.19L218.87 77.35L219.20 77.50L219.52 77.65L219.85 77.80L220.17 77.94L220.50 78.07L220.82 78.20L221.15 78.32L221.47 78.44L221.80 78.55L222.12 78.65L222.45 78.74L222.77 78.83L223.09 78.91L223.42 78.97L223.74 79.03L224.07 79.09L224.39 79.13L224.72 79.16L225.04 79.18L225.37 79.20L225.69 79.21L226.02 79.20L226.34 79.19L226.67 79.17L226.99 79.14L227.31 79.10L227.64 79.06L227.96 79.00L228.29 78.94L228.61 78.87L228.94 78.80L229.26 78.72L229.59 78.63L229.91 78.53L230.24 78.44L230.56 78.33L230.89 78.22L231.21 78.11L231.53 77.99L231.86 77.88L232.18 77.75L232.51 77.63L232.83 77.50L233.16 77.38L233.48 77.25L233.81 77.12L234.13 77.00L234.46 76.87L234.78 76.75L235.10 76.63L235.43 76.51L235.75 76.39L236.08 76.27L236.40 76.16L236.73 76.06L237.05 75.96L237.38 75.86L237.70 75.77L238.03 75.68L238.35 75.60L238.68 75.52L239.00 75.45L239.32 75.39L239.65 75.33L239.97 75.28L240.30 75.24L240.62 75.20L240.95 75.17L241.27 75.15L241.60 75.13L241.92 75.13L242.25 75.12L242.57 75.13L242.90 75.14L243.22 75.16L243.54 75.18L243.87 75.22L244.19 75.25L244.52 75.30L244.84 75.35L245.17 75.40L245.49 75.46L245.82 75.53L246.14 75.60L246.47 75.67L246.79 75.75L247.11 75.83L247.44 75.92L247.76 76.00L248.09 76.09L248.41 76.19L248.74 76.28L249.06 76.38L249.39 76.47L249.71 76.57L250.04 76.67L250.36 76.77L250.69 76.87L251.01 76.96L251.33 77.06L251.66 77.15L251.98 77.24L252.31 77.33L252.63 77.42L252.96 77.50L253.28 77.58L253.61 77.66L253.93 77.73L254.26 77.80L254.58 77.87L254.91 77.93L255.23 77.99L255.55 78.04L255.88 78.08L256.20 78.13L256.53 78.16L256.85 78.19L257.18 78.22L257.50 78.24L257.83 78.25L258.15 78.26L258.48 78.27L258.80 78.27L259.12 78.26L259.45 78.25L259.77 78.23L260.10 78.21L260.42 78.19L260.75 78.15L261.07 78.12L261.40 78.08L261.72 78.03L262.05 77.99L262.37 77.94L262.70 77.88L263.02 77.82L263.34 77.76L263.67 77.70L263.99 77.63L264.32 77.56L264.64 77.49L264.97 77.42L265.29 77.35L265.62 77.27L265.94 77.20L266.27 77.12L266.59 77.05L266.92 76.97L267.24 76.90L267.56 76.82L267.89 76.75L268.21 76.68L268.54 76.61L268.86 76.54L269.19 76.47L269.51 76.41L269.84 76.35L270.16 76.29L270.49 76.24L270.81 76.18L271.13 76.13L271.46 76.09L271.78 76.05L272.11 76.01L272.43 75.97L272.76 75.94L273.08 75.92L273.41 75.90L273.73 75.88L274.06 75.86L274.38 75.85L274.71 75.85L275.03 75.85L275.35 75.85L275.68 75.85L276.00 75.86L276.33 75.88L276.65 75.90L276.98 75.92L277.30 75.94L277.63 75.97L277.95 76.01L278.28 76.04L278.60 76.08L278.93 76.12L279.25 76.16L279.57 76.21L279.90 76.26L280.22 76.31L280.55 76.36L280.87 76.41L281.20 76.47L281.52 76.52L281.85 76.58L282.17 76.64L282.50 76.70L282.82 76.75L283.15 76.81L283.47 76.87L283.79 76.93L284.12 76.98L284.44 77.04L284.77 77.09L285.09 77.15L285.42 77.20L285.74 77.25L286.07 77.30L286.39 77.34L286.72 77.39L287.04 77.43L287.36 77.47L287.69 77.51L288.01 77.54L288.34 77.57L288.66 77.60L288.99 77.62L289.31 77.65L289.64 77.66L289.96 77.68L290.29 77.69L290.61 77.70L290.94 77.71L291.26 77.71L291.58 77.71L291.91 77.71L292.23 77.70L292.56 77.69L292.88 77.68L293.21 77.67L293.53 77.65L293.86 77.63L294.18 77.60L294.51 77.58L294.83 77.55L295.16 77.52L295.48 77.49L295.80 77.45L296.13 77.42L296.45 77.38L296.78 77.34L297.10 77.30L297.43 77.26L297.75 77.22L298.08 77.17L298.40 77.13L298.73 77.08L299.05 77.04L299.37 76.99L299.70 76.95L300.02 76.90L300.35 76.86L300.67 76.82L301.00 76.77L301.32 76.73L301.65 76.69L301.97 76.65L302.30 76.62L302.62 76.58L302.95 76.54L303.27 76.51L303.59 76.48L303.92 76.45L304.24 76.42L304.57 76.40L304.89 76.37L305.22 76.35L305.54 76.34L305.87 76.32L306.19 76.31L306.52 76.29L306.84 76.29L307.17 76.28L307.49 76.28L307.81 76.27L308.14 76.28L308.46 76.28L308.79 76.28L309.11 76.29L309.44 76.30L309.76 76.32L310.09 76.33L310.41 76.35L310.74 76.37L311.06 76.39L311.38 76.41L311.71 76.43L312.03 76.46L312.36 76.49L312.68 76.51L313.01 76.54L313.33 76.57L313.66 76.61L313.98 76.64L314.31 76.67L314.63 76.70L314.96 76.74L315.28 76.77L315.60 76.81L315.93 76.84L316.25 76.88L316.58 76.91L316.90 76.94L317.23 76.98L317.55 77.01L317.88 77.04L318.20 77.07L318.53 77.10L318.85 77.13L319.18 77.16L319.50 77.19L319.82 77.21L320.15 77.23L320.47 77.26L320.80 77.28L321.12 77.29L321.45 77.31L321.77 77.33L322.10 77.34L322.42 77.35L322.75 77.36L323.07 77.37L323.40 77.38L323.72 77.38L324.04 77.38L324.37 77.38L324.69 77.38L325.02 77.38L325.34 77.37L325.67 77.36L325.99 77.36L326.32 77.35L326.64 77.33L326.97 77.32L327.29 77.31L327.61 77.29L327.94 77.27L328.26 77.25L328.59 77.23L328.91 77.21L329.24 77.19L329.56 77.16L329.89 77.14L330.21 77.12L330.54 77.09L330.86 77.07L331.19 77.04L331.51 77.01L331.83 76.99L332.16 76.96L332.48 76.93L332.81 76.91L333.13 76.88L333.46 76.86L333.78 76.83L334.11 76.81L334.43 76.78L334.76 76.76L335.08 76.73L335.41 76.71L335.73 76.69L336.05 76.67L336.38 76.65L336.70 76.64L337.03 76.62L337.35 76.60L337.68 76.59L338.00 76.58L338.33 76.57L338.65 76.56L338.98 76.55L339.30 76.54L339.62 76.54L339.95 76.53L340.27 76.53L340.60 76.53L340.92 76.53L341.25 76.53L341.57 76.53L341.90 76.54L342.22 76.54L342.55 76.55L342.87 76.56L343.20 76.57L343.52 76.58L343.84 76.59L344.17 76.61L344.49 76.62L344.82 76.64L345.14 76.65L345.47 76.67L345.79 76.69L346.12 76.70L346.44 76.72L346.77 76.74L347.09 76.76L347.42 76.78L347.74 76.80L348.06 76.82L348.39 76.84L348.71 76.86L349.04 76.88L349.36 76.90L349.69 76.92L350.01 76.94L350.34 76.96L350.66 76.98L350.99 77.00L351.31 77.02L351.63 77.03L351.96 77.05L352.28 77.07L352.61 77.08L352.93 77.10L353.26 77.11L353.58 77.12L353.91 77.13L354.23 77.14L354.56 77.15L354.88 77.16L355.21 77.17L355.53 77.17L355.85 77.18L356.18 77.18L356.50 77.18L356.83 77.19L357.15 77.19L357.48 77.19L357.80 77.18L358.13 77.18L358.45 77.18L358.78 77.17L359.10 77.17L359.43 77.16L359.75 77.15L360.07 77.14L360.40 77.13L360.72 77.12L361.05 77.11L361.37 77.10L361.70 77.09L362.02 77.07L362.35 77.06L362.67 77.05L363.00 77.03L363.32 77.02L363.64 77.00L363.97 76.99L364.29 76.97L364.62 76.95L364.94 76.94L365.27 76.92L365.59 76.91L365.92 76.89L366.24 76.88L366.57 76.86L366.89 76.85L367.22 76.83L367.54 76.82L367.86 76.80L368.19 76.79L368.51 76.78L368.84 76.77L369.16 76.76L369.49 76.74L369.81 76.73L370.14 76.73L370.46 76.72L370.79 76.71L371.11 76.70L371.44 76.70L371.76 76.69L372.08 76.69L372.41 76.68L372.73 76.68L373.06 76.68L373.38 76.68L373.71 76.68L374.03 76.68L374.36 76.68L374.68 76.68L375.01 76.69L375.33 76.69L375.66 76.70L375.98 76.70L376.30 76.71L376.63 76.72L376.95 76.72L377.28 76.73L377.60 76.74L377.93 76.75L378.25 76.76L378.58 76.77L378.90 76.78L379.23 76.79L379.55 76.80L379.87 76.82L380.20 76.83L380.52 76.84L380.85 76.85L381.17 76.86L381.50 76.88L381.82 76.89L382.15 76.90L382.47 76.91L382.80 76.92L383.12 76.93L383.45 76.95L383.77 76.96L384.09 76.97L384.42 76.98L384.74 76.99L385.07 77.00L385.39 77.01L385.72 77.01L386.04 77.02L386.37 77.03L386.69 77.04L387.02 77.04L387.34 77.05L387.67 77.05L387.99 77.06L388.31 77.06L388.64 77.06L388.96 77.07L389.29 77.07L389.61 77.07L389.94 77.07L390.26 77.07L390.59 77.07L390.91 77.07L391.24 77.06L391.56 77.06L391.88 77.06L392.21 77.05L392.53 77.05L392.86 77.04L393.18 77.04L393.51 77.03L393.83 77.03L394.16 77.02L394.48 77.01L394.81 77.00L395.13 77.00L395.46 76.99L395.78 76.98L396.10 76.97L396.43 76.96L396.75 76.95L397.08 76.94L397.40 76.93L397.73 76.92L398.05 76.91L398.38 76.91L398.70 76.90L399.03 76.89L399.35 76.88L399.68 76.87L400.00 76.86L400.32 76.85L400.65 76.84L400.97 76.84L401.30 76.83L401.62 76.82L401.95 76.82L402.27 76.81L402.60 76.80L402.92 76.80L403.25 76.79L403.57 76.79L403.89 76.78L404.22 76.78L404.54 76.78L404.87 76.77L405.19 76.77L405.52 76.77L405.84 76.77L406.17 76.77L406.49 76.77L406.82 76.77L407.14 76.77L407.47 76.77L407.79 76.77L408.11 76.78L408.44 76.78L408.76 76.78L409.09 76.79L409.41 76.79L409.74 76.79L410.06 76.80L410.39 76.80L410.71 76.81L411.04 76.82L411.36 76.82L411.69 76.83L412.01 76.84L412.33 76.84L412.66 76.85L412.98 76.86L413.31 76.86L413.63 76.87L413.96 76.88L414.28 76.88L414.61 76.89L414.93 76.90L415.26 76.91L415.58 76.91L415.90 76.92L416.23 76.93L416.55 76.93L416.88 76.94L417.20 76.95L417.53 76.95L417.85 76.96L418.18 76.96L418.50 76.97L418.83 76.97L419.15 76.98L419.48 76.98L419.80 76.98L420.12 76.99L420.45 76.99L420.77 76.99L421.10 77.00L421.42 77.00L421.75 77.00L422.07 77.00L422.40 77.00L422.72 77.00L423.05 77.00L423.37 77.00L423.70 77.00L424.02 77.00L424.34 77.00L424.67 76.99L424.99 76.99L425.32 76.99L425.64 76.99L425.97 76.98L426.29 76.98L426.62 76.98L426.94 76.97L427.27 76.97L427.59 76.96L427.92 76.96L428.24 76.95L428.56 76.95L428.89 76.94L429.21 76.94L429.54 76.93L429.86 76.93L430.19 76.92L430.51 76.92L430.84 76.91L431.16 76.90L431.49 76.90L431.81 76.89L432.13 76.89L432.46 76.88L432.78 76.88L433.11 76.87L433.43 76.87L433.76 76.86L434.08 76.86L434.41 76.85L434.73 76.85L435.06 76.85L435.38 76.84L435.71 76.84L436.03 76.84L436.35 76.83L436.68 76.83L437.00 76.83L437.33 76.83L437.65 76.83L437.98 76.82L438.30 76.82L438.63 76.82L438.95 76.82L439.28 76.82L439.60 76.82L439.93 76.82L440.25 76.82L440.57 76.82L440.90 76.83L441.22 76.83L441.55 76.83L441.87 76.83L442.20 76.83L442.52 76.84L442.85 76.84L443.17 76.84L443.50 76.85L443.82 76.85L444.14 76.85L444.47 76.86L444.79 76.86L445.12 76.86L445.44 76.87L445.77 76.87L446.09 76.88L446.42 76.88L446.74 76.89L447.07 76.89L447.39 76.89L447.72 76.90L448.04 76.90L448.36 76.91L448.69 76.91L449.01 76.91L449.34 76.92L449.66 76.92L449.99 76.93L450.31 76.93L450.64 76.93L450.96 76.94L451.29 76.94L451.61 76.94L451.94 76.95L452.26 76.95L452.58 76.95L452.91 76.95L453.23 76.95L453.56 76.96L453.88 76.96L454.21 76.96L454.53 76.96L454.86 76.96L455.18 76.96L455.51 76.96L455.83 76.96L456.15 76.96L456.48 76.96L456.80 76.96L457.13 76.96L457.45 76.96L457.78 76.95L458.10 76.95L458.43 76.95L458.75 76.95L459.08 76.95L459.40 76.95L459.73 76.94L460.05 76.94L460.37 76.94L460.70 76.93L461.02 76.93L461.35 76.93L461.67 76.93L462.00 76.92L462.32 76.92L462.65 76.92L462.97 76.91L463.30 76.91L463.62 76.91L463.95 76.90L464.27 76.90L464.59 76.90L464.92 76.89L465.24 76.89L465.57 76.89L465.89 76.88L466.22 76.88L466.54 76.88L466.87 76.88L467.19 76.87L467.52 76.87L467.84 76.87L468.17 76.87L468.49 76.86L468.81 76.86L469.14 76.86L469.46 76.86L469.79 76.86L470.11 76.86L470.44 76.86L470.76 76.86L471.09 76.85L471.41 76.85L471.74 76.85L472.06 76.85L472.38 76.85L472.71 76.85L473.03 76.85L473.36 76.86L473.68 76.86L474.01 76.86L474.33 76.86L474.66 76.86L474.98 76.86L475.31 76.86L475.63 76.86L475.96 76.87L476.28 76.87L476.60 76.87L476.93 76.87L477.25 76.87L477.58 76.88L477.90 76.88L478.23 76.88L478.55 76.88L478.88 76.89L479.20 76.89L479.53 76.89L479.85 76.89L480.18 76.90L480.50 76.90L480.82 76.90L481.15 76.90L481.47 76.91L481.80 76.91L482.12 76.91L482.45 76.91L482.77 76.92L483.10 76.92L483.42 76.92L483.75 76.92L484.07 76.92L484.39 76.92L484.72 76.93L485.04 76.93L485.37 76.93L485.69 76.93L486.02 76.93L486.34 76.93L486.67 76.93L486.99 76.93L487.32 76.93L487.64 76.94L487.97 76.94L488.29 76.94L488.61 76.94L488.94 76.94L489.26 76.94L489.59 76.93L489.91 76.93L490.24 76.93L490.56 76.93L490.89 76.93L491.21 76.93L491.54 76.93L491.86 76.93L492.19 76.93L492.51 76.93L492.83 76.92L493.16 76.92L493.48 76.92L493.81 76.92L494.13 76.92L494.46 76.92L494.78 76.91L495.11 76.91L495.43 76.91L495.76 76.91L496.08 76.91L496.40 76.90L496.73 76.90L497.05 76.90L497.38 76.90L497.70 76.90L498.03 76.89L498.35 76.89L498.68 76.89L499.00 76.89L499.33 76.89L499.65 76.89L499.98 76.88L500.30 76.88L500.62 76.88L500.95 76.88L501.27 76.88L501.60 76.88L501.92 76.88L502.25 76.88L502.57 76.88L502.90 76.87L503.22 76.87L503.55 76.87L503.87 76.87L504.20 76.87L504.52 76.87L504.84 76.87L505.17 76.87L505.49 76.87L505.82 76.87L506.14 76.87L506.47 76.87L506.79 76.87L507.12 76.88L507.44 76.88L507.77 76.88L508.09 76.88L508.41 76.88L508.74 76.88L509.06 76.88L509.39 76.88L509.71 76.88L510.04 76.88L510.36 76.89L510.69 76.89L511.01 76.89L511.34 76.89L511.66 76.89L511.99 76.89L512.31 76.89L512.63 76.90L512.96 76.90L513.28 76.90L513.61 76.90L513.93 76.90L514.26 76.90L514.58 76.90L514.91 76.91L515.23 76.91L515.56 76.91L515.88 76.91L516.21 76.91L516.53 76.91L516.85 76.91L517.18 76.91L517.50 76.92L517.83 76.92L518.15 76.92L518.48 76.92L518.80 76.92L519.13 76.92L519.45 76.92L519.78 76.92L520.10 76.92L520.43 76.92L520.75 76.92L521.07 76.92L521.40 76.92L521.72 76.92L522.05 76.92L522.37 76.92L522.70 76.92L523.02 76.92L523.35 76.92L523.67 76.92L524.00 76.92L524.32 76.92L524.64 76.92L524.97 76.92L525.29 76.92L525.62 76.91L525.94 76.91L526.27 76.91L526.59 76.91L526.92 76.91L527.24 76.91L527.57 76.91L527.89 76.91L528.22 76.91L528.54 76.90L528.86 76.90L529.19 76.90L529.51 76.90L529.84 76.90L530.16 76.90L530.49 76.90L530.81 76.90L531.14 76.90L531.46 76.89L531.79 76.89L532.11 76.89L532.44 76.89L532.76 76.89L533.08 76.89L533.41 76.89L533.73 76.89L534.06 76.89L534.38 76.89L534.71 76.89L535.03 76.89L535.36 76.89L535.68 76.88L536.01 76.88L536.33 76.88L536.65 76.88L536.98 76.88L537.30 76.88L537.63 76.88L537.95 76.88L538.28 76.88L538.60 76.88L538.93 76.88L539.25 76.88L539.58 76.88L539.90 76.89L540.23 76.89L540.55 76.89" fill="none" stroke="#1aa42a" stroke-width="1.7" stroke-linejoin="round"/><text transform="translate(44.05 122.00) scale(1 1.08)" font-size="9.3" text-anchor="middle" fill="#3c3c3c" stroke="#3c3c3c" stroke-width="0.3">0</text><text transform="translate(93.70 122.00) scale(1 1.08)" font-size="9.3" text-anchor="middle" fill="#3c3c3c" stroke="#3c3c3c" stroke-width="0.3">0.5</text><text transform="translate(143.35 122.00) scale(1 1.08)" font-size="9.3" text-anchor="middle" fill="#3c3c3c" stroke="#3c3c3c" stroke-width="0.3">1</text><text transform="translate(193.00 122.00) scale(1 1.08)" font-size="9.3" text-anchor="middle" fill="#3c3c3c" stroke="#3c3c3c" stroke-width="0.3">1.5</text><text transform="translate(242.65 122.00) scale(1 1.08)" font-size="9.3" text-anchor="middle" fill="#3c3c3c" stroke="#3c3c3c" stroke-width="0.3">2</text><text transform="translate(292.30 122.00) scale(1 1.08)" font-size="9.3" text-anchor="middle" fill="#3c3c3c" stroke="#3c3c3c" stroke-width="0.3">2.5</text><text transform="translate(341.95 122.00) scale(1 1.08)" font-size="9.3" text-anchor="middle" fill="#3c3c3c" stroke="#3c3c3c" stroke-width="0.3">3</text><text transform="translate(391.60 122.00) scale(1 1.08)" font-size="9.3" text-anchor="middle" fill="#3c3c3c" stroke="#3c3c3c" stroke-width="0.3">3.5</text><text transform="translate(441.25 122.00) scale(1 1.08)" font-size="9.3" text-anchor="middle" fill="#3c3c3c" stroke="#3c3c3c" stroke-width="0.3">4</text><text transform="translate(490.90 122.00) scale(1 1.08)" font-size="9.3" text-anchor="middle" fill="#3c3c3c" stroke="#3c3c3c" stroke-width="0.3">4.5</text><text transform="translate(540.55 122.00) scale(1 1.08)" font-size="9.3" text-anchor="middle" fill="#3c3c3c" stroke="#3c3c3c" stroke-width="0.3">5</text><text transform="translate(41.00 21.60) scale(1 1.08)" font-size="9.3" text-anchor="end" fill="#3c3c3c" stroke="#3c3c3c" stroke-width="0.3">0.1</text><text transform="translate(41.00 51.60) scale(1 1.08)" font-size="9.3" text-anchor="end" fill="#3c3c3c" stroke="#3c3c3c" stroke-width="0.3">0.05</text><text transform="translate(41.00 81.60) scale(1 1.08)" font-size="9.3" text-anchor="end" fill="#3c3c3c" stroke="#3c3c3c" stroke-width="0.3">0</text><text transform="translate(41.00 111.60) scale(1 1.08)" font-size="9.3" text-anchor="end" fill="#3c3c3c" stroke="#3c3c3c" stroke-width="0.3">-0.05</text><text transform="translate(292.00 12.60) scale(1 1.0)" font-size="12.4" text-anchor="middle" font-weight="bold" fill="#000">Displacement of the unsprung mass.</text><text transform="translate(292.20 134.80) scale(1 1.0)" font-size="10" text-anchor="middle" fill="#3c3c3c" stroke="#3c3c3c" stroke-width="0.15">t. (s.)</text><text transform="translate(15.40 62.60) rotate(-90) scale(1 1.0)" font-size="10" text-anchor="middle" fill="#3c3c3c" stroke="#3c3c3c" stroke-width="0.15">Pos. (m.)</text><rect x="449.5" y="22.5" width="87" height="32" fill="#fff" stroke="#a0a0a0" stroke-width="1"/><circle cx="458.5" cy="30.3" r="1.4" fill="none" stroke="#404040" stroke-width="0.9"/><line x1="451" y1="46.7" x2="466.6" y2="46.7" stroke="#22dd22" stroke-width="1.6"/><text transform="translate(468 32.9) scale(1 1.05)" font-size="9.55" fill="#111" stroke="#111" stroke-width="0.2">Pos. m<tspan font-size="7.3" dy="3.9">2</tspan><tspan dy="-3.9">. (Real.)</tspan></text><text transform="translate(468 48.8) scale(1 1.05)" font-size="9.55" fill="#111" stroke="#111" stroke-width="0.2">Pos. m<tspan font-size="7.3" dy="3.9">2</tspan><tspan dy="-3.9">. (Est.)</tspan></text><defs><filter id="bl" x="-5%" y="-20%" width="110%" height="140%"><feGaussianBlur stdDeviation="2"/></filter></defs><g filter="url(#bl)" opacity="1"><path d="M44.05 188.95L44.08 193.89L44.11 198.68L44.14 203.27L44.17 207.64L44.20 211.76L44.23 215.89L44.26 220.15L44.29 224.31L44.32 228.15L44.35 231.44L44.38 233.95L44.41 235.53L44.44 236.83L44.47 238.04L44.50 239.14L44.53 240.12L44.56 240.96L44.59 241.64L44.62 242.14L44.65 242.45L44.68 242.62L44.71 242.71L44.74 242.74L44.77 242.71L44.80 242.63L44.83 242.52L44.86 242.37L44.89 242.21L44.92 242.03L44.95 241.85L44.98 241.62L45.01 241.29L45.04 240.89L45.07 240.42L45.10 239.88L45.13 239.29L45.15 238.67L45.18 238.01L45.21 237.33L45.24 236.65L45.27 235.96L45.30 235.28L45.33 234.62L45.36 233.96L45.39 233.28L45.42 232.57L45.45 231.83L45.48 231.08L45.51 230.31L45.54 229.53L45.57 228.75L45.60 227.97L45.63 227.18L45.66 226.41L45.69 225.64L45.72 224.90L45.75 224.17L45.78 223.43L45.81 222.68L45.84 221.93L45.87 221.17L45.90 220.43L45.93 219.68L45.96 218.95L45.99 218.24L46.02 217.54L46.05 216.87L46.08 216.22L46.11 215.60L46.14 215.02L46.17 214.46L46.20 213.90L46.23 213.35L46.26 212.81L46.29 212.27L46.32 211.75L46.35 211.24L46.38 210.73L46.41 210.24L46.44 209.77L46.47 209.31L46.50 208.86L46.53 208.43L46.56 208.02L46.59 207.62L46.62 207.25L46.65 206.89L46.68 206.56L46.71 206.25L46.74 205.96L46.77 205.68L46.80 205.41L46.83 205.15L46.86 204.89L46.89 204.64L46.92 204.41L46.95 204.18L46.98 203.95L47.01 203.74L47.04 203.53L47.07 203.34L47.10 203.15L47.13 202.98L47.16 202.81L47.19 202.65L47.22 202.50L47.25 202.36L47.28 202.24L47.31 202.12L47.34 202.01L47.36 201.91L47.39 201.83L47.42 201.76L47.45 201.69L47.48 201.63L47.51 201.57L47.54 201.51L47.57 201.46L47.60 201.42L47.63 201.38L47.66 201.35L47.69 201.33L47.72 201.32L47.75 201.31L47.78 201.31L47.81 201.33L47.84 201.35L47.87 201.38L47.90 201.43L47.93 201.49L47.96 201.55L47.99 201.61L48.02 201.68L48.05 201.74L48.08 201.81L48.11 201.88L48.14 201.96L48.17 202.03L48.20 202.11L48.23 202.20L48.26 202.28L48.29 202.37L48.32 202.46L48.35 202.56L48.38 202.66L48.41 202.76L48.44 202.87L48.47 202.98L48.50 203.10L48.53 203.22L48.56 203.34L48.59 203.46L48.62 203.58L48.65 203.70L48.68 203.82L48.71 203.94L48.74 204.06L48.77 204.18L48.80 204.30L48.83 204.42L48.86 204.54L48.89 204.66L48.92 204.79L48.95 204.91L48.98 205.03L49.01 205.15L49.04 205.28L49.07 205.40L49.10 205.52L49.13 205.65L49.16 205.78L49.19 205.90L49.22 206.03L49.25 206.16L49.28 206.29L49.31 206.42L49.34 206.55L49.37 206.68L49.40 206.81L49.43 206.93L49.46 207.06L49.49 207.19L49.52 207.32L49.55 207.44L49.57 207.57L49.60 207.70L49.63 207.83L49.66 207.95L49.69 208.08L49.72 208.20L49.75 208.33L49.78 208.45L49.81 208.58L49.84 208.70L49.87 208.83L49.90 208.95L49.93 209.07L49.96 209.20L49.99 209.32L50.02 209.44L50.05 209.56L50.08 209.68L50.11 209.80L50.14 209.92L50.17 210.04L50.20 210.16L50.23 210.28L50.26 210.40L50.29 210.51L50.32 210.63L50.35 210.75L50.38 210.86L50.41 210.97L50.44 211.09L50.47 211.20L50.50 211.32L50.53 211.45L50.56 211.58L50.59 211.71L50.62 211.85L50.65 211.99L50.68 212.14L50.71 212.29L50.74 212.44L50.77 212.60L50.80 212.76L50.83 212.92L50.86 213.08L50.89 213.25L50.92 213.42L50.95 213.59L50.98 213.76L51.01 213.93L51.04 214.10L51.07 214.27L51.10 214.44L51.13 214.61L51.16 214.78L51.19 214.94L51.22 215.11L51.25 215.28L51.28 215.44L51.31 215.60L51.34 215.76L51.37 215.91L51.40 216.06L51.43 216.21L51.46 216.35L51.49 216.50L51.52 216.63L51.55 216.77L51.58 216.91L51.61 217.05L51.64 217.20L51.67 217.34L51.70 217.49L51.73 217.63L51.76 217.78L51.78 217.92L51.81 218.07L51.84 218.21L51.87 218.36L51.90 218.50L51.93 218.64L51.96 218.78L51.99 218.92L52.02 219.05L52.05 219.19L52.08 219.32L52.11 219.44L52.14 219.57L52.17 219.69L52.20 219.80L52.23 219.91L52.26 220.02L52.29 220.12L52.32 220.22L52.35 220.31L52.38 220.40L52.41 220.48L52.44 220.55L52.47 220.62L52.50 220.68L52.53 220.73L52.56 220.78L52.59 220.82L52.62 220.85L52.65 220.88L52.68 220.91L52.71 220.94L52.74 220.97L52.77 221.00L52.80 221.03L52.83 221.05L52.86 221.07L52.89 221.10L52.92 221.12L52.95 221.13L52.98 221.15L53.01 221.17L53.04 221.18L53.07 221.19L53.10 221.20L53.13 221.21L53.16 221.22L53.19 221.23L53.22 221.23L53.25 221.24L53.28 221.24L53.31 221.24L53.34 221.24L53.37 221.23L53.40 221.23L53.43 221.22L53.46 221.22L53.49 221.21L53.52 221.20L53.55 221.18L53.58 221.17L53.61 221.15L53.64 221.14L53.67 221.12L53.70 221.10L53.73 221.07L53.76 221.05L53.79 221.02L53.82 221.00L53.85 220.97L53.88 220.94L53.91 220.90L53.94 220.87L53.97 220.83L53.99 220.80L54.02 220.76L54.05 220.72L54.08 220.68L54.11 220.64L54.14 220.60L54.17 220.55L54.20 220.51L54.23 220.46L54.26 220.42L54.29 220.37L54.32 220.32L54.35 220.27L54.38 220.22L54.41 220.17L54.44 220.12L54.47 220.06L54.50 220.01L54.53 219.95L54.56 219.90L54.59 219.84L54.62 219.78L54.65 219.72L54.68 219.66L54.71 219.60L54.74 219.54L54.77 219.48L54.80 219.41L54.83 219.35L54.86 219.28L54.89 219.21L54.92 219.15L54.95 219.08L54.98 219.01L55.01 218.94L55.04 218.87L55.07 218.80L55.10 218.72L55.13 218.65L55.16 218.57L55.19 218.50L55.22 218.42L55.25 218.34L55.28 218.26L55.31 218.18L55.34 218.10L55.37 218.02L55.40 217.94L55.43 217.86L55.46 217.77L55.49 217.69L55.52 217.60L55.55 217.52L55.58 217.43L55.61 217.34L55.64 217.25L55.67 217.16L55.70 217.07L55.73 216.98L55.76 216.89L55.79 216.80L55.82 216.70L55.85 216.61L55.88 216.51L55.91 216.42L55.94 216.32L55.97 216.22L56.29 215.11L56.61 213.91L56.94 212.62L57.26 211.26L57.58 209.83L57.91 208.33L58.23 206.77L58.55 205.16L58.88 203.50L59.20 201.81L59.52 200.08L59.85 198.33L60.17 196.56L60.49 194.78L60.82 193.00L61.14 191.21L61.46 189.44L61.78 187.69L62.11 185.95L62.43 184.25L62.75 182.58L63.08 180.95L63.40 179.37L63.72 177.84L64.05 176.37L64.37 174.97L64.69 173.63L65.02 172.36L65.34 171.17L65.66 170.07L65.99 169.04L66.31 168.10L66.63 167.25L66.96 166.50L67.28 165.83L67.60 165.26L67.93 164.79L68.25 164.42L68.57 164.14L68.90 163.96L69.22 163.88L69.54 163.90L69.87 164.01L70.19 164.22L70.51 164.51L70.84 164.90L71.16 165.38L71.48 165.94L71.81 166.59L72.13 167.31L72.45 168.11L72.78 168.98L73.10 169.92L73.42 170.93L73.75 171.99L74.07 173.10L74.39 174.27L74.72 175.48L75.04 176.73L75.36 178.01L75.69 179.32L76.01 180.65L76.33 182.01L76.66 183.37L76.98 184.75L77.30 186.12L77.63 187.49L77.95 188.86L78.27 190.21L78.60 191.54L78.92 192.85L79.24 194.13L79.56 195.37L79.89 196.58L80.21 197.75L80.53 198.87L80.86 199.94L81.18 200.96L81.50 201.93L81.83 202.83L82.15 203.67L82.47 204.45L82.80 205.16L83.12 205.80L83.44 206.36L83.77 206.86L84.09 207.28L84.41 207.63L84.74 207.90L85.06 208.10L85.38 208.22L85.71 208.27L86.03 208.24L86.35 208.14L86.68 207.96L87.00 207.72L87.32 207.41L87.65 207.02L87.97 206.58L88.29 206.07L88.62 205.50L88.94 204.87L89.26 204.18L89.59 203.45L89.91 202.67L90.23 201.84L90.56 200.97L90.88 200.07L91.20 199.13L91.53 198.16L91.85 197.17L92.17 196.16L92.50 195.12L92.82 194.08L93.14 193.03L93.47 191.97L93.79 190.91L94.11 189.85L94.44 188.80L94.76 187.77L95.08 186.74L95.41 185.74L95.73 184.76L96.05 183.80L96.37 182.88L96.70 181.99L97.02 181.13L97.34 180.31L97.67 179.53L97.99 178.80L98.31 178.12L98.64 177.48L98.96 176.89L99.28 176.36L99.61 175.87L99.93 175.45L100.25 175.08L100.58 174.76L100.90 174.51L101.22 174.31L101.55 174.17L101.87 174.09L102.19 174.07L102.52 174.10L102.84 174.19L103.16 174.33L103.49 174.53L103.81 174.79L104.13 175.09L104.46 175.45L104.78 175.85L105.10 176.30L105.43 176.79L105.75 177.33L106.07 177.90L106.40 178.51L106.72 179.16L107.04 179.83L107.37 180.53L107.69 181.26L108.01 182.01L108.34 182.78L108.66 183.56L108.98 184.36L109.31 185.17L109.63 185.98L109.95 186.80L110.28 187.61L110.60 188.43L110.92 189.23L111.25 190.03L111.57 190.81L111.89 191.58L112.22 192.34L112.54 193.07L112.86 193.77L113.19 194.46L113.51 195.11L113.83 195.73L114.15 196.33L114.48 196.88L114.80 197.40L115.12 197.89L115.45 198.33L115.77 198.73L116.09 199.10L116.42 199.42L116.74 199.69L117.06 199.92L117.39 200.11L117.71 200.26L118.03 200.35L118.36 200.41L118.68 200.42L119.00 200.38L119.33 200.30L119.65 200.18L119.97 200.02L120.30 199.82L120.62 199.57L120.94 199.29L121.27 198.97L121.59 198.62L121.91 198.23L122.24 197.81L122.56 197.37L122.88 196.89L123.21 196.39L123.53 195.86L123.85 195.32L124.18 194.75L124.50 194.17L124.82 193.58L125.15 192.97L125.47 192.36L125.79 191.73L126.12 191.11L126.44 190.48L126.76 189.85L127.09 189.22L127.41 188.60L127.73 187.99L128.06 187.39L128.38 186.80L128.70 186.22L129.03 185.66L129.35 185.12L129.67 184.60L130.00 184.10L130.32 183.63L130.64 183.17L130.96 182.75L131.29 182.36L131.61 181.99L131.93 181.65L132.26 181.35L132.58 181.08L132.90 180.84L133.23 180.63L133.55 180.46L133.87 180.32L134.20 180.22L134.52 180.15L134.84 180.12L135.17 180.12L135.49 180.15L135.81 180.22L136.14 180.32L136.46 180.45L136.78 180.62L137.11 180.81L137.43 181.03L137.75 181.28L138.08 181.56L138.40 181.86L138.72 182.19L139.05 182.54L139.37 182.91L139.69 183.30L140.02 183.71L140.34 184.13L140.66 184.57L140.99 185.02L141.31 185.48L141.63 185.95L141.96 186.43L142.28 186.91L142.60 187.39L142.93 187.88L143.25 188.36L143.57 188.84L143.90 189.32L144.22 189.79L144.54 190.25L144.87 190.70L145.19 191.14L145.51 191.57L145.84 191.99L146.16 192.38L146.48 192.76L146.81 193.13L147.13 193.47L147.45 193.79L147.78 194.09L148.10 194.37L148.42 194.62L148.74 194.85L149.07 195.06L149.39 195.24L149.71 195.39L150.04 195.51L150.36 195.62L150.68 195.69L151.01 195.74L151.33 195.76L151.65 195.75L151.98 195.72L152.30 195.66L152.62 195.58L152.95 195.47L153.27 195.34L153.59 195.19L153.92 195.01L154.24 194.81L154.56 194.60L154.89 194.36L155.21 194.10L155.53 193.83L155.86 193.54L156.18 193.24L156.50 192.92L156.83 192.59L157.15 192.25L157.47 191.90L157.80 191.55L158.12 191.18L158.44 190.82L158.77 190.45L159.09 190.07L159.41 189.70L159.74 189.33L160.06 188.96L160.38 188.59L160.71 188.23L161.03 187.87L161.35 187.53L161.68 187.19L162.00 186.86L162.32 186.55L162.65 186.24L162.97 185.95L163.29 185.67L163.62 185.41L163.94 185.17L164.26 184.94L164.59 184.73L164.91 184.54L165.23 184.37L165.56 184.21L165.88 184.08L166.20 183.97L166.52 183.87L166.85 183.80L167.17 183.75L167.49 183.72L167.82 183.70L168.14 183.71L168.46 183.74L168.79 183.79L169.11 183.86L169.43 183.94L169.76 184.05L170.08 184.17L170.40 184.31L170.73 184.47L171.05 184.64L171.37 184.82L171.70 185.02L172.02 185.24L172.34 185.46L172.67 185.70L172.99 185.94L173.31 186.20L173.64 186.46L173.96 186.73L174.28 187.01L174.61 187.29L174.93 187.57L175.25 187.86L175.58 188.15L175.90 188.43L176.22 188.72L176.55 189.00L176.87 189.29L177.19 189.56L177.52 189.84L177.84 190.10L178.16 190.36L178.49 190.61L178.81 190.85L179.13 191.08L179.46 191.31L179.78 191.52L180.10 191.71L180.43 191.90L180.75 192.07L181.07 192.23L181.40 192.38L181.72 192.51L182.04 192.62L182.37 192.72L182.69 192.81L183.01 192.87L183.33 192.93L183.66 192.96L183.98 192.99L184.30 192.99L184.63 192.98L184.95 192.96L185.27 192.92L185.60 192.86L185.92 192.79L186.24 192.71L186.57 192.61L186.89 192.50L187.21 192.38L187.54 192.24L187.86 192.10L188.18 191.94L188.51 191.78L188.83 191.60L189.15 191.42L189.48 191.23L189.80 191.03L190.12 190.82L190.45 190.61L190.77 190.40L191.09 190.18L191.42 189.97L191.74 189.75L192.06 189.52L192.39 189.30L192.71 189.08L193.03 188.86L193.36 188.65L193.68 188.43L194.00 188.22L194.33 188.02L194.65 187.82L194.97 187.63L195.30 187.45L195.62 187.27L195.94 187.10L196.27 186.94L196.59 186.79L196.91 186.65L197.24 186.52L197.56 186.40L197.88 186.29L198.21 186.19L198.53 186.10L198.85 186.03L199.18 185.97L199.50 185.92L199.82 185.88L200.15 185.85L200.47 185.84L200.79 185.84L201.11 185.85L201.44 185.87L201.76 185.90L202.08 185.95L202.41 186.00L202.73 186.07L203.05 186.15L203.38 186.23L203.70 186.33L204.02 186.44L204.35 186.55L204.67 186.67L204.99 186.80L205.32 186.94L205.64 187.08L205.96 187.23L206.29 187.38L206.61 187.54L206.93 187.70L207.26 187.87L207.58 188.03L207.90 188.20L208.23 188.37L208.55 188.54L208.87 188.71L209.20 188.88L209.52 189.05L209.84 189.22L210.17 189.38L210.49 189.54L210.81 189.70L211.14 189.85L211.46 190.00L211.78 190.14L212.11 190.27L212.43 190.40L212.75 190.52L213.08 190.64L213.40 190.75L213.72 190.84L214.05 190.94L214.37 191.02L214.69 191.09L215.02 191.16L215.34 191.21L215.66 191.26L215.99 191.29L216.31 191.32L216.63 191.34L216.96 191.35L217.28 191.35L217.60 191.34L217.93 191.32L218.25 191.29L218.57 191.26L218.89 191.21L219.22 191.16L219.54 191.10L219.86 191.03L220.19 190.95L220.51 190.87L220.83 190.78L221.16 190.69L221.48 190.58L221.80 190.48L222.13 190.37L222.45 190.25L222.77 190.13L223.10 190.01L223.42 189.89L223.74 189.76L224.07 189.63L224.39 189.50L224.71 189.37L225.04 189.24L225.36 189.10L225.68 188.97L226.01 188.84L226.33 188.72L226.65 188.59L226.98 188.47L227.30 188.35L227.62 188.23L227.95 188.12L228.27 188.01L228.59 187.91L228.92 187.81L229.24 187.72L229.56 187.63L229.89 187.55L230.21 187.48L230.53 187.41L230.86 187.34L231.18 187.29L231.50 187.24L231.83 187.20L232.15 187.17L232.47 187.14L232.80 187.12L233.12 187.11L233.44 187.10L233.77 187.10L234.09 187.11L234.41 187.13L234.74 187.15L235.06 187.18L235.38 187.22L235.70 187.26L236.03 187.31L236.35 187.36L236.67 187.42L237.00 187.48L237.32 187.55L237.64 187.63L237.97 187.71L238.29 187.79L238.61 187.88L238.94 187.97L239.26 188.06L239.58 188.15L239.91 188.25L240.23 188.35L240.55 188.45L240.88 188.55L241.20 188.65L241.52 188.75L241.85 188.85L242.17 188.95L242.49 189.05L242.82 189.15L243.14 189.25L243.46 189.34L243.79 189.43L244.11 189.52L244.43 189.61L244.76 189.69L245.08 189.77L245.40 189.84L245.73 189.91L246.05 189.98L246.37 190.04L246.70 190.10L247.02 190.15L247.34 190.20L247.67 190.24L247.99 190.27L248.31 190.30L248.64 190.33L248.96 190.35L249.28 190.36L249.61 190.37L249.93 190.37L250.25 190.37L250.58 190.36L250.90 190.35L251.22 190.33L251.55 190.31L251.87 190.28L252.19 190.25L252.52 190.21L252.84 190.17L253.16 190.12L253.48 190.07L253.81 190.01L254.13 189.96L254.45 189.89L254.78 189.83L255.10 189.76L255.42 189.69L255.75 189.62L256.07 189.55L256.39 189.47L256.72 189.40L257.04 189.32L257.36 189.24L257.69 189.16L258.01 189.09L258.33 189.01L258.66 188.93L258.98 188.86L259.30 188.78L259.63 188.71L259.95 188.63L260.27 188.56L260.60 188.50L260.92 188.43L261.24 188.37L261.57 188.31L261.89 188.25L262.21 188.20L262.54 188.15L262.86 188.10L263.18 188.06L263.51 188.02L263.83 187.98L264.15 187.95L264.48 187.92L264.80 187.90L265.12 187.88L265.45 187.87L265.77 187.86L266.09 187.85L266.42 187.85L266.74 187.86L267.06 187.86L267.39 187.87L267.71 187.89L268.03 187.91L268.36 187.93L268.68 187.96L269.00 187.99L269.33 188.02L269.65 188.06L269.97 188.10L270.30 188.14L270.62 188.19L270.94 188.23L271.26 188.28L271.59 188.33L271.91 188.39L272.23 188.44L272.56 188.50L272.88 188.56L273.20 188.62L273.53 188.68L273.85 188.74L274.17 188.80L274.50 188.86L274.82 188.92L275.14 188.98L275.47 189.04L275.79 189.09L276.11 189.15L276.44 189.21L276.76 189.26L277.08 189.31L277.41 189.36L277.73 189.41L278.05 189.45L278.38 189.50L278.70 189.54L279.02 189.58L279.35 189.61L279.67 189.64L279.99 189.67L280.32 189.70L280.64 189.72L280.96 189.74L281.29 189.76L281.61 189.77L281.93 189.78L282.26 189.79L282.58 189.79L282.90 189.80L283.23 189.79L283.55 189.79L283.87 189.78L284.20 189.76L284.52 189.75L284.84 189.73L285.17 189.71L285.49 189.69L285.81 189.66L286.14 189.63L286.46 189.60L286.78 189.57L287.11 189.53L287.43 189.49L287.75 189.46L288.07 189.42L288.40 189.37L288.72 189.33L289.04 189.29L289.37 189.24L289.69 189.20L290.01 189.15L290.34 189.10L290.66 189.06L290.98 189.01L291.31 188.97L291.63 188.92L291.95 188.87L292.28 188.83L292.60 188.79L292.92 188.74L293.25 188.70L293.57 188.66L293.89 188.63L294.22 188.59L294.54 188.55L294.86 188.52L295.19 188.49L295.51 188.46L295.83 188.43L296.16 188.41L296.48 188.39L296.80 188.37L297.13 188.35L297.45 188.34L297.77 188.32L298.10 188.31L298.42 188.31L298.74 188.30L299.07 188.30L299.39 188.30L299.71 188.30L300.04 188.31L300.36 188.31L300.68 188.32L301.01 188.34L301.33 188.35L301.65 188.37L301.98 188.39L302.30 188.41L302.62 188.43L302.95 188.45L303.27 188.48L303.59 188.51L303.92 188.54L304.24 188.57L304.56 188.60L304.89 188.63L305.21 188.66L305.53 188.70L305.85 188.73L306.18 188.77L306.50 188.80L306.82 188.84L307.15 188.87L307.47 188.91L307.79 188.95L308.12 188.98L308.44 189.02L308.76 189.05L309.09 189.08L309.41 189.11L309.73 189.15L310.06 189.18L310.38 189.21L310.70 189.23L311.03 189.26L311.35 189.29L311.67 189.31L312.00 189.33L312.32 189.35L312.64 189.37L312.97 189.39L313.29 189.40L313.61 189.41L313.94 189.43L314.26 189.43L314.58 189.44L314.91 189.45L315.23 189.45L315.55 189.45L315.88 189.45L316.20 189.45L316.52 189.44L316.85 189.44L317.17 189.43L317.49 189.42L317.82 189.41L318.14 189.40L318.46 189.38L318.79 189.36L319.11 189.35L319.43 189.33L319.76 189.31L320.08 189.29L320.40 189.26L320.73 189.24L321.05 189.22L321.37 189.19L321.70 189.17L322.02 189.14L322.34 189.11L322.66 189.08L322.99 189.06L323.31 189.03L323.63 189.00L323.96 188.98L324.28 188.95L324.60 188.92L324.93 188.89L325.25 188.87L325.57 188.84L325.90 188.82L326.22 188.79L326.54 188.77L326.87 188.75L327.19 188.73L327.51 188.71L327.84 188.69L328.16 188.67L328.48 188.65L328.81 188.64L329.13 188.62L329.45 188.61L329.78 188.60L330.10 188.59L330.42 188.58L330.75 188.58L331.07 188.57L331.39 188.57L331.72 188.56L332.04 188.56L332.36 188.56L332.69 188.57L333.01 188.57L333.33 188.58L333.66 188.58L333.98 188.59L334.30 188.60L334.63 188.61L334.95 188.62L335.27 188.63L335.60 188.65L335.92 188.66L336.24 188.68L336.57 188.69L336.89 188.71L337.21 188.73L337.54 188.75L337.86 188.77L338.18 188.79L338.51 188.81L338.83 188.83L339.15 188.85L339.48 188.87L339.80 188.89L340.12 188.91L340.44 188.94L340.77 188.96L341.09 188.98L341.41 189.00L341.74 189.02L342.06 189.04L342.38 189.06L342.71 189.07L343.03 189.09L343.35 189.11L343.68 189.13L344.00 189.14L344.32 189.16L344.65 189.17L344.97 189.18L345.29 189.19L345.62 189.20L345.94 189.21L346.26 189.22L346.59 189.23L346.91 189.23L347.23 189.24L347.56 189.24L347.88 189.25L348.20 189.25L348.53 189.25L348.85 189.25L349.17 189.25L349.50 189.24L349.82 189.24L350.14 189.23L350.47 189.23L350.79 189.22L351.11 189.21L351.44 189.20L351.76 189.19L352.08 189.18L352.41 189.17L352.73 189.16L353.05 189.14L353.38 189.13L353.70 189.12L354.02 189.10L354.35 189.09L354.67 189.07L354.99 189.06L355.32 189.04L355.64 189.02L355.96 189.01L356.29 188.99L356.61 188.97L356.93 188.96L357.26 188.94L357.58 188.93L357.90 188.91L358.22 188.89L358.55 188.88L358.87 188.87L359.19 188.85L359.52 188.84L359.84 188.82L360.16 188.81L360.49 188.80L360.81 188.79L361.13 188.78L361.46 188.77L361.78 188.76L362.10 188.75L362.43 188.75L362.75 188.74L363.07 188.73L363.40 188.73L363.72 188.73L364.04 188.72L364.37 188.72L364.69 188.72L365.01 188.72L365.34 188.72L365.66 188.72L365.98 188.73L366.31 188.73L366.63 188.73L366.95 188.74L367.28 188.74L367.60 188.75L367.92 188.76L368.25 188.77L368.57 188.77L368.89 188.78L369.22 188.79L369.54 188.80L369.86 188.81L370.19 188.82L370.51 188.84L370.83 188.85L371.16 188.86L371.48 188.87L371.80 188.88L372.13 188.90L372.45 188.91L372.77 188.92L373.10 188.93L373.42 188.95L373.74 188.96L374.07 188.97L374.39 188.98L374.71 188.99L375.03 189.01L375.36 189.02L375.68 189.03L376.00 189.04L376.33 189.05L376.65 189.06L376.97 189.07L377.30 189.08L377.62 189.08L377.94 189.09L378.27 189.10L378.59 189.10L378.91 189.11L379.24 189.11L379.56 189.12L379.88 189.12L380.21 189.12L380.53 189.12L380.85 189.13L381.18 189.13L381.50 189.13L381.82 189.13L382.15 189.12L382.47 189.12L382.79 189.12L383.12 189.12L383.44 189.11L383.76 189.11L384.09 189.10L384.41 189.10L384.73 189.09L385.06 189.08L385.38 189.08L385.70 189.07L386.03 189.06L386.35 189.05L386.67 189.05L387.00 189.04L387.32 189.03L387.64 189.02L387.97 189.01L388.29 189.00L388.61 188.99L388.94 188.98L389.26 188.97L389.58 188.96L389.91 188.95L390.23 188.94L390.55 188.93L390.88 188.92L391.20 188.91L391.52 188.90L391.85 188.90L392.17 188.89L392.49 188.88L392.81 188.87L393.14 188.87L393.46 188.86L393.78 188.85L394.11 188.85L394.43 188.84L394.75 188.84L395.08 188.83L395.40 188.83L395.72 188.82L396.05 188.82L396.37 188.82L396.69 188.82L397.02 188.81L397.34 188.81L397.66 188.81L397.99 188.81L398.31 188.81L398.63 188.82L398.96 188.82L399.28 188.82L399.60 188.82L399.93 188.83L400.25 188.83L400.57 188.83L400.90 188.84L401.22 188.84L401.54 188.85L401.87 188.85L402.19 188.86L402.51 188.87L402.84 188.87L403.16 188.88L403.48 188.88L403.81 188.89L404.13 188.90L404.45 188.91L404.78 188.91L405.10 188.92L405.42 188.93L405.75 188.94L406.07 188.94L406.39 188.95L406.72 188.96L407.04 188.97L407.36 188.97L407.69 188.98L408.01 188.99L408.33 188.99L408.66 189.00L408.98 189.01L409.30 189.01L409.63 189.02L409.95 189.02L410.27 189.03L410.59 189.03L410.92 189.04L411.24 189.04L411.56 189.04L411.89 189.05L412.21 189.05L412.53 189.05L412.86 189.05L413.18 189.05L413.50 189.05L413.83 189.05L414.15 189.05L414.47 189.05L414.80 189.05L415.12 189.05L415.44 189.05L415.77 189.05L416.09 189.05L416.41 189.05L416.74 189.04L417.06 189.04L417.38 189.04L417.71 189.03L418.03 189.03L418.35 189.02L418.68 189.02L419.00 189.01L419.32 189.01L419.65 189.00L419.97 189.00L420.29 188.99L420.62 188.99L420.94 188.98L421.26 188.98L421.59 188.97L421.91 188.97L422.23 188.96L422.56 188.95L422.88 188.95L423.20 188.94L423.53 188.94L423.85 188.93L424.17 188.93L424.50 188.92L424.82 188.92L425.14 188.91L425.47 188.91L425.79 188.90L426.11 188.90L426.44 188.89L426.76 188.89L427.08 188.89L427.40 188.88L427.73 188.88L428.05 188.88L428.37 188.88L428.70 188.87L429.02 188.87L429.34 188.87L429.67 188.87L429.99 188.87L430.31 188.87L430.64 188.87L430.96 188.87L431.28 188.87L431.61 188.87L431.93 188.87L432.25 188.87L432.58 188.88L432.90 188.88L433.22 188.88L433.55 188.88L433.87 188.88L434.19 188.89L434.52 188.89L434.84 188.89L435.16 188.90L435.49 188.90L435.81 188.91L436.13 188.91L436.46 188.91L436.78 188.92L437.10 188.92L437.43 188.93L437.75 188.93L438.07 188.93L438.40 188.94L438.72 188.94L439.04 188.95L439.37 188.95L439.69 188.96L440.01 188.96L440.34 188.97L440.66 188.97L440.98 188.97L441.31 188.98L441.63 188.98L441.95 188.98L442.28 188.99L442.60 188.99L442.92 188.99L443.25 189.00L443.57 189.00L443.89 189.00L444.22 189.00L444.54 189.01L444.86 189.01L445.18 189.01L445.51 189.01L445.83 189.01L446.15 189.01L446.48 189.01L446.80 189.01L447.12 189.01L447.45 189.01L447.77 189.01L448.09 189.01L448.42 189.01L448.74 189.01L449.06 189.01L449.39 189.01L449.71 189.00L450.03 189.00L450.36 189.00L450.68 189.00L451.00 189.00L451.33 188.99L451.65 188.99L451.97 188.99L452.30 188.98L452.62 188.98L452.94 188.98L453.27 188.97L453.59 188.97L453.91 188.97L454.24 188.96L454.56 188.96L454.88 188.96L455.21 188.95L455.53 188.95L455.85 188.95L456.18 188.94L456.50 188.94L456.82 188.94L457.15 188.93L457.47 188.93L457.79 188.93L458.12 188.93L458.44 188.92L458.76 188.92L459.09 188.92L459.41 188.92L459.73 188.91L460.06 188.91L460.38 188.91L460.70 188.91L461.03 188.91L461.35 188.91L461.67 188.90L462.00 188.90L462.32 188.90L462.64 188.90L462.96 188.90L463.29 188.90L463.61 188.90L463.93 188.90L464.26 188.90L464.58 188.90L464.90 188.90L465.23 188.90L465.55 188.91L465.87 188.91L466.20 188.91L466.52 188.91L466.84 188.91L467.17 188.91L467.49 188.92L467.81 188.92L468.14 188.92L468.46 188.92L468.78 188.92L469.11 188.93L469.43 188.93L469.75 188.93L470.08 188.93L470.40 188.94L470.72 188.94L471.05 188.94L471.37 188.94L471.69 188.95L472.02 188.95L472.34 188.95L472.66 188.96L472.99 188.96L473.31 188.96L473.63 188.96L473.96 188.96L474.28 188.97L474.60 188.97L474.93 188.97L475.25 188.97L475.57 188.97L475.90 188.98L476.22 188.98L476.54 188.98L476.87 188.98L477.19 188.98L477.51 188.98L477.84 188.98L478.16 188.99L478.48 188.99L478.81 188.99L479.13 188.99L479.45 188.99L479.77 188.99L480.10 188.99L480.42 188.99L480.74 188.99L481.07 188.99L481.39 188.99L481.71 188.98L482.04 188.98L482.36 188.98L482.68 188.98L483.01 188.98L483.33 188.98L483.65 188.98L483.98 188.98L484.30 188.97L484.62 188.97L484.95 188.97L485.27 188.97L485.59 188.97L485.92 188.97L486.24 188.96L486.56 188.96L486.89 188.96L487.21 188.96L487.53 188.96L487.86 188.95L488.18 188.95L488.50 188.95L488.83 188.95L489.15 188.95L489.47 188.94L489.80 188.94L490.12 188.94L490.44 188.94L490.77 188.94L491.09 188.93L491.41 188.93L491.74 188.93L492.06 188.93L492.38 188.93L492.71 188.93L493.03 188.93L493.35 188.93L493.68 188.92L494.00 188.92L494.32 188.92L494.65 188.92L494.97 188.92L495.29 188.92L495.62 188.92L495.94 188.92L496.26 188.92L496.59 188.92L496.91 188.92L497.23 188.92L497.55 188.92L497.88 188.92L498.20 188.92L498.52 188.92L498.85 188.92L499.17 188.93L499.49 188.93L499.82 188.93L500.14 188.93L500.46 188.93L500.79 188.93L501.11 188.93L501.43 188.93L501.76 188.94L502.08 188.94L502.40 188.94L502.73 188.94L503.05 188.94L503.37 188.94L503.70 188.94L504.02 188.95L504.34 188.95L504.67 188.95L504.99 188.95L505.31 188.95L505.64 188.95L505.96 188.96L506.28 188.96L506.61 188.96L506.93 188.96L507.25 188.96L507.58 188.96L507.90 188.96L508.22 188.96L508.55 188.97L508.87 188.97L509.19 188.97L509.52 188.97L509.84 188.97L510.16 188.97L510.49 188.97L510.81 188.97L511.13 188.97L511.46 188.97L511.78 188.97L512.10 188.97L512.43 188.97L512.75 188.97L513.07 188.97L513.40 188.97L513.72 188.97L514.04 188.97L514.37 188.97L514.69 188.97L515.01 188.97L515.33 188.97L515.66 188.97L515.98 188.97L516.30 188.97L516.63 188.97L516.95 188.97L517.27 188.96L517.60 188.96L517.92 188.96L518.24 188.96L518.57 188.96L518.89 188.96L519.21 188.96L519.54 188.96L519.86 188.96L520.18 188.95L520.51 188.95L520.83 188.95L521.15 188.95L521.48 188.95L521.80 188.95L522.12 188.95L522.45 188.95L522.77 188.94L523.09 188.94L523.42 188.94L523.74 188.94L524.06 188.94L524.39 188.94L524.71 188.94L525.03 188.94L525.36 188.94L525.68 188.94L526.00 188.94L526.33 188.94L526.65 188.93L526.97 188.93L527.30 188.93L527.62 188.93L527.94 188.93L528.27 188.93L528.59 188.93L528.91 188.93L529.24 188.93L529.56 188.93L529.88 188.93L530.21 188.93L530.53 188.93L530.85 188.93L531.18 188.93L531.50 188.93L531.82 188.94L532.14 188.94L532.47 188.94L532.79 188.94L533.11 188.94L533.44 188.94L533.76 188.94L534.08 188.94L534.41 188.94L534.73 188.94L535.05 188.94L535.38 188.94L535.70 188.94L536.02 188.95L536.35 188.95L536.67 188.95L536.99 188.95L537.32 188.95L537.64 188.95L537.96 188.95L538.29 188.95L538.61 188.95L538.93 188.95L539.26 188.95L539.58 188.96L539.90 188.96L540.23 188.96L540.55 188.96" fill="none" stroke="#d6f8f8" stroke-width="10" stroke-linejoin="round" stroke-linecap="butt"/></g><g fill="#dcf9f9"><rect x="64" y="160" width="16" height="16" opacity="0.8"/><rect x="48" y="176" width="16" height="16" opacity="0.8"/><rect x="64" y="176" width="16" height="16" opacity="0.5"/><rect x="32" y="192" width="16" height="16" opacity="0.8"/><rect x="48" y="192" width="16" height="16" opacity="0.8"/><rect x="80" y="192" width="16" height="16" opacity="0.6"/><rect x="32" y="208" width="16" height="16" opacity="0.8"/><rect x="48" y="208" width="16" height="16" opacity="0.8"/><rect x="32" y="224" width="16" height="16" opacity="0.7"/><rect x="32" y="240" width="16" height="16" opacity="0.7"/><rect x="96" y="176" width="16" height="16" opacity="0.5"/><rect x="112" y="192" width="16" height="16" opacity="0.5"/><rect x="128" y="176" width="16" height="16" opacity="0.5"/></g><line x1="93.70" y1="160.5" x2="93.70" y2="251.5" stroke="#f3f3f3" stroke-width="1"/><line x1="143.35" y1="160.5" x2="143.35" y2="251.5" stroke="#f3f3f3" stroke-width="1"/><line x1="193.00" y1="160.5" x2="193.00" y2="251.5" stroke="#f3f3f3" stroke-width="1"/><line x1="242.65" y1="160.5" x2="242.65" y2="251.5" stroke="#f3f3f3" stroke-width="1"/><line x1="292.30" y1="160.5" x2="292.30" y2="251.5" stroke="#f3f3f3" stroke-width="1"/><line x1="341.95" y1="160.5" x2="341.95" y2="251.5" stroke="#f3f3f3" stroke-width="1"/><line x1="391.60" y1="160.5" x2="391.60" y2="251.5" stroke="#f3f3f3" stroke-width="1"/><line x1="441.25" y1="160.5" x2="441.25" y2="251.5" stroke="#f3f3f3" stroke-width="1"/><line x1="490.90" y1="160.5" x2="490.90" y2="251.5" stroke="#f3f3f3" stroke-width="1"/><line x1="44.5" y1="188.95" x2="540.5" y2="188.95" stroke="#efefef" stroke-width="1"/><line x1="44.5" y1="217.40" x2="540.5" y2="217.40" stroke="#efefef" stroke-width="1"/><line x1="44.5" y1="245.85" x2="540.5" y2="245.85" stroke="#efefef" stroke-width="1"/><rect x="44.5" y="160.5" width="496.0" height="91.0" fill="none" stroke="#9c9c9c" stroke-width="1"/><line x1="44.05" y1="251.5" x2="44.05" y2="247.0" stroke="#7c7c7c" stroke-width="1"/><line x1="44.05" y1="160.5" x2="44.05" y2="165.0" stroke="#7c7c7c" stroke-width="1"/><line x1="93.70" y1="251.5" x2="93.70" y2="247.0" stroke="#7c7c7c" stroke-width="1"/><line x1="93.70" y1="160.5" x2="93.70" y2="165.0" stroke="#7c7c7c" stroke-width="1"/><line x1="143.35" y1="251.5" x2="143.35" y2="247.0" stroke="#7c7c7c" stroke-width="1"/><line x1="143.35" y1="160.5" x2="143.35" y2="165.0" stroke="#7c7c7c" stroke-width="1"/><line x1="193.00" y1="251.5" x2="193.00" y2="247.0" stroke="#7c7c7c" stroke-width="1"/><line x1="193.00" y1="160.5" x2="193.00" y2="165.0" stroke="#7c7c7c" stroke-width="1"/><line x1="242.65" y1="251.5" x2="242.65" y2="247.0" stroke="#7c7c7c" stroke-width="1"/><line x1="242.65" y1="160.5" x2="242.65" y2="165.0" stroke="#7c7c7c" stroke-width="1"/><line x1="292.30" y1="251.5" x2="292.30" y2="247.0" stroke="#7c7c7c" stroke-width="1"/><line x1="292.30" y1="160.5" x2="292.30" y2="165.0" stroke="#7c7c7c" stroke-width="1"/><line x1="341.95" y1="251.5" x2="341.95" y2="247.0" stroke="#7c7c7c" stroke-width="1"/><line x1="341.95" y1="160.5" x2="341.95" y2="165.0" stroke="#7c7c7c" stroke-width="1"/><line x1="391.60" y1="251.5" x2="391.60" y2="247.0" stroke="#7c7c7c" stroke-width="1"/><line x1="391.60" y1="160.5" x2="391.60" y2="165.0" stroke="#7c7c7c" stroke-width="1"/><line x1="441.25" y1="251.5" x2="441.25" y2="247.0" stroke="#7c7c7c" stroke-width="1"/><line x1="441.25" y1="160.5" x2="441.25" y2="165.0" stroke="#7c7c7c" stroke-width="1"/><line x1="490.90" y1="251.5" x2="490.90" y2="247.0" stroke="#7c7c7c" stroke-width="1"/><line x1="490.90" y1="160.5" x2="490.90" y2="165.0" stroke="#7c7c7c" stroke-width="1"/><line x1="540.55" y1="251.5" x2="540.55" y2="247.0" stroke="#7c7c7c" stroke-width="1"/><line x1="540.55" y1="160.5" x2="540.55" y2="165.0" stroke="#7c7c7c" stroke-width="1"/><line x1="44.5" y1="160.50" x2="49.0" y2="160.50" stroke="#7c7c7c" stroke-width="1"/><line x1="540.5" y1="160.50" x2="536.0" y2="160.50" stroke="#7c7c7c" stroke-width="1"/><line x1="44.5" y1="188.95" x2="49.0" y2="188.95" stroke="#7c7c7c" stroke-width="1"/><line x1="540.5" y1="188.95" x2="536.0" y2="188.95" stroke="#7c7c7c" stroke-width="1"/><line x1="44.5" y1="217.40" x2="49.0" y2="217.40" stroke="#7c7c7c" stroke-width="1"/><line x1="540.5" y1="217.40" x2="536.0" y2="217.40" stroke="#7c7c7c" stroke-width="1"/><line x1="44.5" y1="245.85" x2="49.0" y2="245.85" stroke="#7c7c7c" stroke-width="1"/><line x1="540.5" y1="245.85" x2="536.0" y2="245.85" stroke="#7c7c7c" stroke-width="1"/><path d="M44.05 250.40L44.08 250.43L44.11 250.44L44.14 250.45L44.17 250.45L44.20 250.44L44.23 250.42L44.26 250.40L44.29 250.37L44.32 250.33L44.35 250.29L44.38 250.24L44.41 250.18L44.44 250.12L44.47 250.05L44.50 249.98L44.53 249.90L44.56 249.82L44.59 249.73L44.62 249.64L44.65 249.54L44.68 249.44L44.71 249.33L44.74 249.21L44.77 249.08L44.80 248.95L44.83 248.81L44.86 248.65L44.89 248.49L44.92 248.32L44.95 248.14L44.98 247.96L45.01 247.76L45.04 247.55L45.07 247.33L45.10 247.11L45.13 246.87L45.15 246.62L45.18 246.37L45.21 246.10L45.24 245.82L45.27 245.53L45.30 245.21L45.33 244.87L45.36 244.52L45.39 244.14L45.42 243.75L45.45 243.34L45.48 242.91L45.51 242.47L45.54 242.01L45.57 241.54L45.60 241.06L45.63 240.57L45.66 240.06L45.69 239.54L45.72 239.02L45.75 238.48L45.78 237.91L45.81 237.31L45.84 236.68L45.87 236.03L45.90 235.36L45.93 234.67L45.96 233.96L45.99 233.24L46.02 232.51L46.05 231.78L46.08 231.05L46.11 230.31L46.14 229.59L46.17 228.86L46.20 228.16L46.23 227.46L46.26 226.77L46.29 226.08L46.32 225.38L46.35 224.68L46.38 223.97L46.41 223.27L46.44 222.56L46.47 221.86L46.50 221.16L46.53 220.46L46.56 219.77L46.59 219.09L46.62 218.41L46.65 217.75L46.68 217.10L46.71 216.46L46.74 215.84L46.77 215.21L46.80 214.58L46.83 213.95L46.86 213.32L46.89 212.69L46.92 212.06L46.95 211.45L46.98 210.84L47.01 210.25L47.04 209.68L47.07 209.12L47.10 208.59L47.13 208.08L47.16 207.61L47.19 207.16L47.22 206.74L47.25 206.36L47.28 205.99L47.31 205.62L47.34 205.27L47.36 204.92L47.39 204.59L47.42 204.27L47.45 203.96L47.48 203.67L47.51 203.39L47.54 203.14L47.57 202.90L47.60 202.68L47.63 202.49L47.66 202.31L47.69 202.16L47.72 202.04L47.75 201.93L47.78 201.83L47.81 201.73L47.84 201.64L47.87 201.55L47.90 201.48L47.93 201.42L47.96 201.38L47.99 201.35L48.02 201.34L48.05 201.36L48.08 201.39L48.11 201.44L48.14 201.52L48.17 201.60L48.20 201.68L48.23 201.76L48.26 201.84L48.29 201.93L48.32 202.02L48.35 202.11L48.38 202.21L48.41 202.31L48.44 202.42L48.47 202.53L48.50 202.65L48.53 202.77L48.56 202.90L48.59 203.04L48.62 203.18L48.65 203.33L48.68 203.48L48.71 203.62L48.74 203.77L48.77 203.91L48.80 204.06L48.83 204.20L48.86 204.35L48.89 204.49L48.92 204.64L48.95 204.78L48.98 204.92L49.01 205.06L49.04 205.20L49.07 205.34L49.10 205.48L49.13 205.62L49.16 205.76L49.19 205.90L49.22 206.03L49.25 206.17L49.28 206.30L49.31 206.44L49.34 206.57L49.37 206.70L49.40 206.83L49.43 206.97L49.46 207.10L49.49 207.23L49.52 207.36L49.55 207.48L49.57 207.61L49.60 207.74L49.63 207.87L49.66 207.99L49.69 208.12L49.72 208.24L49.75 208.37L49.78 208.49L49.81 208.61L49.84 208.74L49.87 208.86L49.90 208.98L49.93 209.10L49.96 209.22L49.99 209.34L50.02 209.46L50.05 209.58L50.08 209.70L50.11 209.82L50.14 209.94L50.17 210.05L50.20 210.17L50.23 210.29L50.26 210.40L50.29 210.52L50.32 210.63L50.35 210.75L50.38 210.86L50.41 210.98L50.44 211.09L50.47 211.20L50.50 211.32L50.53 211.45L50.56 211.58L50.59 211.71L50.62 211.85L50.65 211.99L50.68 212.14L50.71 212.29L50.74 212.44L50.77 212.60L50.80 212.76L50.83 212.92L50.86 213.08L50.89 213.25L50.92 213.42L50.95 213.59L50.98 213.76L51.01 213.93L51.04 214.10L51.07 214.27L51.10 214.44L51.13 214.61L51.16 214.78L51.19 214.94L51.22 215.11L51.25 215.28L51.28 215.44L51.31 215.60L51.34 215.76L51.37 215.91L51.40 216.06L51.43 216.21L51.46 216.35L51.49 216.50L51.52 216.63L51.55 216.77L51.58 216.91L51.61 217.05L51.64 217.20L51.67 217.34L51.70 217.49L51.73 217.63L51.76 217.78L51.78 217.92L51.81 218.07L51.84 218.21L51.87 218.36L51.90 218.50L51.93 218.64L51.96 218.78L51.99 218.92L52.02 219.05L52.05 219.19L52.08 219.32L52.11 219.44L52.14 219.57L52.17 219.69L52.20 219.80L52.23 219.91L52.26 220.02L52.29 220.12L52.32 220.22L52.35 220.31L52.38 220.40L52.41 220.48L52.44 220.55L52.47 220.62L52.50 220.68L52.53 220.73L52.56 220.78L52.59 220.82L52.62 220.85L52.65 220.88L52.68 220.91L52.71 220.94L52.74 220.97L52.77 221.00L52.80 221.03L52.83 221.05L52.86 221.07L52.89 221.10L52.92 221.12L52.95 221.13L52.98 221.15L53.01 221.17L53.04 221.18L53.07 221.19L53.10 221.20L53.13 221.21L53.16 221.22L53.19 221.23L53.22 221.23L53.25 221.24L53.28 221.24L53.31 221.24L53.34 221.24L53.37 221.23L53.40 221.23L53.43 221.22L53.46 221.22L53.49 221.21L53.52 221.20L53.55 221.18L53.58 221.17L53.61 221.15L53.64 221.14L53.67 221.12L53.70 221.10L53.73 221.07L53.76 221.05L53.79 221.02L53.82 221.00L53.85 220.97L53.88 220.94L53.91 220.90L53.94 220.87L53.97 220.83L53.99 220.80L54.02 220.76L54.05 220.72L54.08 220.68L54.11 220.64L54.14 220.60L54.17 220.55L54.20 220.51L54.23 220.46L54.26 220.42L54.29 220.37L54.32 220.32L54.35 220.27L54.38 220.22L54.41 220.17L54.44 220.12L54.47 220.06L54.50 220.01L54.53 219.95L54.56 219.90L54.59 219.84L54.62 219.78L54.65 219.72L54.68 219.66L54.71 219.60L54.74 219.54L54.77 219.48L54.80 219.41L54.83 219.35L54.86 219.28L54.89 219.21L54.92 219.15L54.95 219.08L54.98 219.01L55.01 218.94L55.04 218.87L55.07 218.80L55.10 218.72L55.13 218.65L55.16 218.57L55.19 218.50L55.22 218.42L55.25 218.34L55.28 218.26L55.31 218.18L55.34 218.10L55.37 218.02L55.40 217.94L55.43 217.86L55.46 217.77L55.49 217.69L55.52 217.60L55.55 217.52L55.58 217.43L55.61 217.34L55.64 217.25L55.67 217.16L55.70 217.07L55.73 216.98L55.76 216.89L55.79 216.80L55.82 216.70L55.85 216.61L55.88 216.51L55.91 216.42L55.94 216.32L55.97 216.22L56.29 215.11L56.61 213.91L56.94 212.62L57.26 211.26L57.58 209.83L57.91 208.33L58.23 206.77L58.55 205.16L58.88 203.50L59.20 201.81L59.52 200.08L59.85 198.33L60.17 196.56L60.49 194.78L60.82 193.00L61.14 191.21L61.46 189.44L61.78 187.69L62.11 185.95L62.43 184.25L62.75 182.58L63.08 180.95L63.40 179.37L63.72 177.84L64.05 176.37L64.37 174.97L64.69 173.63L65.02 172.36L65.34 171.17L65.66 170.07L65.99 169.04L66.31 168.10L66.63 167.25L66.96 166.50L67.28 165.83L67.60 165.26L67.93 164.79L68.25 164.42L68.57 164.14L68.90 163.96L69.22 163.88L69.54 163.90L69.87 164.01L70.19 164.22L70.51 164.51L70.84 164.90L71.16 165.38L71.48 165.94L71.81 166.59L72.13 167.31L72.45 168.11L72.78 168.98L73.10 169.92L73.42 170.93L73.75 171.99L74.07 173.10L74.39 174.27L74.72 175.48L75.04 176.73L75.36 178.01L75.69 179.32L76.01 180.65L76.33 182.01L76.66 183.37L76.98 184.75L77.30 186.12L77.63 187.49L77.95 188.86L78.27 190.21L78.60 191.54L78.92 192.85L79.24 194.13L79.56 195.37L79.89 196.58L80.21 197.75L80.53 198.87L80.86 199.94L81.18 200.96L81.50 201.93L81.83 202.83L82.15 203.67L82.47 204.45L82.80 205.16L83.12 205.80L83.44 206.36L83.77 206.86L84.09 207.28L84.41 207.63L84.74 207.90L85.06 208.10L85.38 208.22L85.71 208.27L86.03 208.24L86.35 208.14L86.68 207.96L87.00 207.72L87.32 207.41L87.65 207.02L87.97 206.58L88.29 206.07L88.62 205.50L88.94 204.87L89.26 204.18L89.59 203.45L89.91 202.67L90.23 201.84L90.56 200.97L90.88 200.07L91.20 199.13L91.53 198.16L91.85 197.17L92.17 196.16L92.50 195.12L92.82 194.08L93.14 193.03L93.47 191.97L93.79 190.91L94.11 189.85L94.44 188.80L94.76 187.77L95.08 186.74L95.41 185.74L95.73 184.76L96.05 183.80L96.37 182.88L96.70 181.99L97.02 181.13L97.34 180.31L97.67 179.53L97.99 178.80L98.31 178.12L98.64 177.48L98.96 176.89L99.28 176.36L99.61 175.87L99.93 175.45L100.25 175.08L100.58 174.76L100.90 174.51L101.22 174.31L101.55 174.17L101.87 174.09L102.19 174.07L102.52 174.10L102.84 174.19L103.16 174.33L103.49 174.53L103.81 174.79L104.13 175.09L104.46 175.45L104.78 175.85L105.10 176.30L105.43 176.79L105.75 177.33L106.07 177.90L106.40 178.51L106.72 179.16L107.04 179.83L107.37 180.53L107.69 181.26L108.01 182.01L108.34 182.78L108.66 183.56L108.98 184.36L109.31 185.17L109.63 185.98L109.95 186.80L110.28 187.61L110.60 188.43L110.92 189.23L111.25 190.03L111.57 190.81L111.89 191.58L112.22 192.34L112.54 193.07L112.86 193.77L113.19 194.46L113.51 195.11L113.83 195.73L114.15 196.33L114.48 196.88L114.80 197.40L115.12 197.89L115.45 198.33L115.77 198.73L116.09 199.10L116.42 199.42L116.74 199.69L117.06 199.92L117.39 200.11L117.71 200.26L118.03 200.35L118.36 200.41L118.68 200.42L119.00 200.38L119.33 200.30L119.65 200.18L119.97 200.02L120.30 199.82L120.62 199.57L120.94 199.29L121.27 198.97L121.59 198.62L121.91 198.23L122.24 197.81L122.56 197.37L122.88 196.89L123.21 196.39L123.53 195.86L123.85 195.32L124.18 194.75L124.50 194.17L124.82 193.58L125.15 192.97L125.47 192.36L125.79 191.73L126.12 191.11L126.44 190.48L126.76 189.85L127.09 189.22L127.41 188.60L127.73 187.99L128.06 187.39L128.38 186.80L128.70 186.22L129.03 185.66L129.35 185.12L129.67 184.60L130.00 184.10L130.32 183.63L130.64 183.17L130.96 182.75L131.29 182.36L131.61 181.99L131.93 181.65L132.26 181.35L132.58 181.08L132.90 180.84L133.23 180.63L133.55 180.46L133.87 180.32L134.20 180.22L134.52 180.15L134.84 180.12L135.17 180.12L135.49 180.15L135.81 180.22L136.14 180.32L136.46 180.45L136.78 180.62L137.11 180.81L137.43 181.03L137.75 181.28L138.08 181.56L138.40 181.86L138.72 182.19L139.05 182.54L139.37 182.91L139.69 183.30L140.02 183.71L140.34 184.13L140.66 184.57L140.99 185.02L141.31 185.48L141.63 185.95L141.96 186.43L142.28 186.91L142.60 187.39L142.93 187.88L143.25 188.36L143.57 188.84L143.90 189.32L144.22 189.79L144.54 190.25L144.87 190.70L145.19 191.14L145.51 191.57L145.84 191.99L146.16 192.38L146.48 192.76L146.81 193.13L147.13 193.47L147.45 193.79L147.78 194.09L148.10 194.37L148.42 194.62L148.74 194.85L149.07 195.06L149.39 195.24L149.71 195.39L150.04 195.51L150.36 195.62L150.68 195.69L151.01 195.74L151.33 195.76L151.65 195.75L151.98 195.72L152.30 195.66L152.62 195.58L152.95 195.47L153.27 195.34L153.59 195.19L153.92 195.01L154.24 194.81L154.56 194.60L154.89 194.36L155.21 194.10L155.53 193.83L155.86 193.54L156.18 193.24L156.50 192.92L156.83 192.59L157.15 192.25L157.47 191.90L157.80 191.55L158.12 191.18L158.44 190.82L158.77 190.45L159.09 190.07L159.41 189.70L159.74 189.33L160.06 188.96L160.38 188.59L160.71 188.23L161.03 187.87L161.35 187.53L161.68 187.19L162.00 186.86L162.32 186.55L162.65 186.24L162.97 185.95L163.29 185.67L163.62 185.41L163.94 185.17L164.26 184.94L164.59 184.73L164.91 184.54L165.23 184.37L165.56 184.21L165.88 184.08L166.20 183.97L166.52 183.87L166.85 183.80L167.17 183.75L167.49 183.72L167.82 183.70L168.14 183.71L168.46 183.74L168.79 183.79L169.11 183.86L169.43 183.94L169.76 184.05L170.08 184.17L170.40 184.31L170.73 184.47L171.05 184.64L171.37 184.82L171.70 185.02L172.02 185.24L172.34 185.46L172.67 185.70L172.99 185.94L173.31 186.20L173.64 186.46L173.96 186.73L174.28 187.01L174.61 187.29L174.93 187.57L175.25 187.86L175.58 188.15L175.90 188.43L176.22 188.72L176.55 189.00L176.87 189.29L177.19 189.56L177.52 189.84L177.84 190.10L178.16 190.36L178.49 190.61L178.81 190.85L179.13 191.08L179.46 191.31L179.78 191.52L180.10 191.71L180.43 191.90L180.75 192.07L181.07 192.23L181.40 192.38L181.72 192.51L182.04 192.62L182.37 192.72L182.69 192.81L183.01 192.87L183.33 192.93L183.66 192.96L183.98 192.99L184.30 192.99L184.63 192.98L184.95 192.96L185.27 192.92L185.60 192.86L185.92 192.79L186.24 192.71L186.57 192.61L186.89 192.50L187.21 192.38L187.54 192.24L187.86 192.10L188.18 191.94L188.51 191.78L188.83 191.60L189.15 191.42L189.48 191.23L189.80 191.03L190.12 190.82L190.45 190.61L190.77 190.40L191.09 190.18L191.42 189.97L191.74 189.75L192.06 189.52L192.39 189.30L192.71 189.08L193.03 188.86L193.36 188.65L193.68 188.43L194.00 188.22L194.33 188.02L194.65 187.82L194.97 187.63L195.30 187.45L195.62 187.27L195.94 187.10L196.27 186.94L196.59 186.79L196.91 186.65L197.24 186.52L197.56 186.40L197.88 186.29L198.21 186.19L198.53 186.10L198.85 186.03L199.18 185.97L199.50 185.92L199.82 185.88L200.15 185.85L200.47 185.84L200.79 185.84L201.11 185.85L201.44 185.87L201.76 185.90L202.08 185.95L202.41 186.00L202.73 186.07L203.05 186.15L203.38 186.23L203.70 186.33L204.02 186.44L204.35 186.55L204.67 186.67L204.99 186.80L205.32 186.94L205.64 187.08L205.96 187.23L206.29 187.38L206.61 187.54L206.93 187.70L207.26 187.87L207.58 188.03L207.90 188.20L208.23 188.37L208.55 188.54L208.87 188.71L209.20 188.88L209.52 189.05L209.84 189.22L210.17 189.38L210.49 189.54L210.81 189.70L211.14 189.85L211.46 190.00L211.78 190.14L212.11 190.27L212.43 190.40L212.75 190.52L213.08 190.64L213.40 190.75L213.72 190.84L214.05 190.94L214.37 191.02L214.69 191.09L215.02 191.16L215.34 191.21L215.66 191.26L215.99 191.29L216.31 191.32L216.63 191.34L216.96 191.35L217.28 191.35L217.60 191.34L217.93 191.32L218.25 191.29L218.57 191.26L218.89 191.21L219.22 191.16L219.54 191.10L219.86 191.03L220.19 190.95L220.51 190.87L220.83 190.78L221.16 190.69L221.48 190.58L221.80 190.48L222.13 190.37L222.45 190.25L222.77 190.13L223.10 190.01L223.42 189.89L223.74 189.76L224.07 189.63L224.39 189.50L224.71 189.37L225.04 189.24L225.36 189.10L225.68 188.97L226.01 188.84L226.33 188.72L226.65 188.59L226.98 188.47L227.30 188.35L227.62 188.23L227.95 188.12L228.27 188.01L228.59 187.91L228.92 187.81L229.24 187.72L229.56 187.63L229.89 187.55L230.21 187.48L230.53 187.41L230.86 187.34L231.18 187.29L231.50 187.24L231.83 187.20L232.15 187.17L232.47 187.14L232.80 187.12L233.12 187.11L233.44 187.10L233.77 187.10L234.09 187.11L234.41 187.13L234.74 187.15L235.06 187.18L235.38 187.22L235.70 187.26L236.03 187.31L236.35 187.36L236.67 187.42L237.00 187.48L237.32 187.55L237.64 187.63L237.97 187.71L238.29 187.79L238.61 187.88L238.94 187.97L239.26 188.06L239.58 188.15L239.91 188.25L240.23 188.35L240.55 188.45L240.88 188.55L241.20 188.65L241.52 188.75L241.85 188.85L242.17 188.95L242.49 189.05L242.82 189.15L243.14 189.25L243.46 189.34L243.79 189.43L244.11 189.52L244.43 189.61L244.76 189.69L245.08 189.77L245.40 189.84L245.73 189.91L246.05 189.98L246.37 190.04L246.70 190.10L247.02 190.15L247.34 190.20L247.67 190.24L247.99 190.27L248.31 190.30L248.64 190.33L248.96 190.35L249.28 190.36L249.61 190.37L249.93 190.37L250.25 190.37L250.58 190.36L250.90 190.35L251.22 190.33L251.55 190.31L251.87 190.28L252.19 190.25L252.52 190.21L252.84 190.17L253.16 190.12L253.48 190.07L253.81 190.01L254.13 189.96L254.45 189.89L254.78 189.83L255.10 189.76L255.42 189.69L255.75 189.62L256.07 189.55L256.39 189.47L256.72 189.40L257.04 189.32L257.36 189.24L257.69 189.16L258.01 189.09L258.33 189.01L258.66 188.93L258.98 188.86L259.30 188.78L259.63 188.71L259.95 188.63L260.27 188.56L260.60 188.50L260.92 188.43L261.24 188.37L261.57 188.31L261.89 188.25L262.21 188.20L262.54 188.15L262.86 188.10L263.18 188.06L263.51 188.02L263.83 187.98L264.15 187.95L264.48 187.92L264.80 187.90L265.12 187.88L265.45 187.87L265.77 187.86L266.09 187.85L266.42 187.85L266.74 187.86L267.06 187.86L267.39 187.87L267.71 187.89L268.03 187.91L268.36 187.93L268.68 187.96L269.00 187.99L269.33 188.02L269.65 188.06L269.97 188.10L270.30 188.14L270.62 188.19L270.94 188.23L271.26 188.28L271.59 188.33L271.91 188.39L272.23 188.44L272.56 188.50L272.88 188.56L273.20 188.62L273.53 188.68L273.85 188.74L274.17 188.80L274.50 188.86L274.82 188.92L275.14 188.98L275.47 189.04L275.79 189.09L276.11 189.15L276.44 189.21L276.76 189.26L277.08 189.31L277.41 189.36L277.73 189.41L278.05 189.45L278.38 189.50L278.70 189.54L279.02 189.58L279.35 189.61L279.67 189.64L279.99 189.67L280.32 189.70L280.64 189.72L280.96 189.74L281.29 189.76L281.61 189.77L281.93 189.78L282.26 189.79L282.58 189.79L282.90 189.80L283.23 189.79L283.55 189.79L283.87 189.78L284.20 189.76L284.52 189.75L284.84 189.73L285.17 189.71L285.49 189.69L285.81 189.66L286.14 189.63L286.46 189.60L286.78 189.57L287.11 189.53L287.43 189.49L287.75 189.46L288.07 189.42L288.40 189.37L288.72 189.33L289.04 189.29L289.37 189.24L289.69 189.20L290.01 189.15L290.34 189.10L290.66 189.06L290.98 189.01L291.31 188.97L291.63 188.92L291.95 188.87L292.28 188.83L292.60 188.79L292.92 188.74L293.25 188.70L293.57 188.66L293.89 188.63L294.22 188.59L294.54 188.55L294.86 188.52L295.19 188.49L295.51 188.46L295.83 188.43L296.16 188.41L296.48 188.39L296.80 188.37L297.13 188.35L297.45 188.34L297.77 188.32L298.10 188.31L298.42 188.31L298.74 188.30L299.07 188.30L299.39 188.30L299.71 188.30L300.04 188.31L300.36 188.31L300.68 188.32L301.01 188.34L301.33 188.35L301.65 188.37L301.98 188.39L302.30 188.41L302.62 188.43L302.95 188.45L303.27 188.48L303.59 188.51L303.92 188.54L304.24 188.57L304.56 188.60L304.89 188.63L305.21 188.66L305.53 188.70L305.85 188.73L306.18 188.77L306.50 188.80L306.82 188.84L307.15 188.87L307.47 188.91L307.79 188.95L308.12 188.98L308.44 189.02L308.76 189.05L309.09 189.08L309.41 189.11L309.73 189.15L310.06 189.18L310.38 189.21L310.70 189.23L311.03 189.26L311.35 189.29L311.67 189.31L312.00 189.33L312.32 189.35L312.64 189.37L312.97 189.39L313.29 189.40L313.61 189.41L313.94 189.43L314.26 189.43L314.58 189.44L314.91 189.45L315.23 189.45L315.55 189.45L315.88 189.45L316.20 189.45L316.52 189.44L316.85 189.44L317.17 189.43L317.49 189.42L317.82 189.41L318.14 189.40L318.46 189.38L318.79 189.36L319.11 189.35L319.43 189.33L319.76 189.31L320.08 189.29L320.40 189.26L320.73 189.24L321.05 189.22L321.37 189.19L321.70 189.17L322.02 189.14L322.34 189.11L322.66 189.08L322.99 189.06L323.31 189.03L323.63 189.00L323.96 188.98L324.28 188.95L324.60 188.92L324.93 188.89L325.25 188.87L325.57 188.84L325.90 188.82L326.22 188.79L326.54 188.77L326.87 188.75L327.19 188.73L327.51 188.71L327.84 188.69L328.16 188.67L328.48 188.65L328.81 188.64L329.13 188.62L329.45 188.61L329.78 188.60L330.10 188.59L330.42 188.58L330.75 188.58L331.07 188.57L331.39 188.57L331.72 188.56L332.04 188.56L332.36 188.56L332.69 188.57L333.01 188.57L333.33 188.58L333.66 188.58L333.98 188.59L334.30 188.60L334.63 188.61L334.95 188.62L335.27 188.63L335.60 188.65L335.92 188.66L336.24 188.68L336.57 188.69L336.89 188.71L337.21 188.73L337.54 188.75L337.86 188.77L338.18 188.79L338.51 188.81L338.83 188.83L339.15 188.85L339.48 188.87L339.80 188.89L340.12 188.91L340.44 188.94L340.77 188.96L341.09 188.98L341.41 189.00L341.74 189.02L342.06 189.04L342.38 189.06L342.71 189.07L343.03 189.09L343.35 189.11L343.68 189.13L344.00 189.14L344.32 189.16L344.65 189.17L344.97 189.18L345.29 189.19L345.62 189.20L345.94 189.21L346.26 189.22L346.59 189.23L346.91 189.23L347.23 189.24L347.56 189.24L347.88 189.25L348.20 189.25L348.53 189.25L348.85 189.25L349.17 189.25L349.50 189.24L349.82 189.24L350.14 189.23L350.47 189.23L350.79 189.22L351.11 189.21L351.44 189.20L351.76 189.19L352.08 189.18L352.41 189.17L352.73 189.16L353.05 189.14L353.38 189.13L353.70 189.12L354.02 189.10L354.35 189.09L354.67 189.07L354.99 189.06L355.32 189.04L355.64 189.02L355.96 189.01L356.29 188.99L356.61 188.97L356.93 188.96L357.26 188.94L357.58 188.93L357.90 188.91L358.22 188.89L358.55 188.88L358.87 188.87L359.19 188.85L359.52 188.84L359.84 188.82L360.16 188.81L360.49 188.80L360.81 188.79L361.13 188.78L361.46 188.77L361.78 188.76L362.10 188.75L362.43 188.75L362.75 188.74L363.07 188.73L363.40 188.73L363.72 188.73L364.04 188.72L364.37 188.72L364.69 188.72L365.01 188.72L365.34 188.72L365.66 188.72L365.98 188.73L366.31 188.73L366.63 188.73L366.95 188.74L367.28 188.74L367.60 188.75L367.92 188.76L368.25 188.77L368.57 188.77L368.89 188.78L369.22 188.79L369.54 188.80L369.86 188.81L370.19 188.82L370.51 188.84L370.83 188.85L371.16 188.86L371.48 188.87L371.80 188.88L372.13 188.90L372.45 188.91L372.77 188.92L373.10 188.93L373.42 188.95L373.74 188.96L374.07 188.97L374.39 188.98L374.71 188.99L375.03 189.01L375.36 189.02L375.68 189.03L376.00 189.04L376.33 189.05L376.65 189.06L376.97 189.07L377.30 189.08L377.62 189.08L377.94 189.09L378.27 189.10L378.59 189.10L378.91 189.11L379.24 189.11L379.56 189.12L379.88 189.12L380.21 189.12L380.53 189.12L380.85 189.13L381.18 189.13L381.50 189.13L381.82 189.13L382.15 189.12L382.47 189.12L382.79 189.12L383.12 189.12L383.44 189.11L383.76 189.11L384.09 189.10L384.41 189.10L384.73 189.09L385.06 189.08L385.38 189.08L385.70 189.07L386.03 189.06L386.35 189.05L386.67 189.05L387.00 189.04L387.32 189.03L387.64 189.02L387.97 189.01L388.29 189.00L388.61 188.99L388.94 188.98L389.26 188.97L389.58 188.96L389.91 188.95L390.23 188.94L390.55 188.93L390.88 188.92L391.20 188.91L391.52 188.90L391.85 188.90L392.17 188.89L392.49 188.88L392.81 188.87L393.14 188.87L393.46 188.86L393.78 188.85L394.11 188.85L394.43 188.84L394.75 188.84L395.08 188.83L395.40 188.83L395.72 188.82L396.05 188.82L396.37 188.82L396.69 188.82L397.02 188.81L397.34 188.81L397.66 188.81L397.99 188.81L398.31 188.81L398.63 188.82L398.96 188.82L399.28 188.82L399.60 188.82L399.93 188.83L400.25 188.83L400.57 188.83L400.90 188.84L401.22 188.84L401.54 188.85L401.87 188.85L402.19 188.86L402.51 188.87L402.84 188.87L403.16 188.88L403.48 188.88L403.81 188.89L404.13 188.90L404.45 188.91L404.78 188.91L405.10 188.92L405.42 188.93L405.75 188.94L406.07 188.94L406.39 188.95L406.72 188.96L407.04 188.97L407.36 188.97L407.69 188.98L408.01 188.99L408.33 188.99L408.66 189.00L408.98 189.01L409.30 189.01L409.63 189.02L409.95 189.02L410.27 189.03L410.59 189.03L410.92 189.04L411.24 189.04L411.56 189.04L411.89 189.05L412.21 189.05L412.53 189.05L412.86 189.05L413.18 189.05L413.50 189.05L413.83 189.05L414.15 189.05L414.47 189.05L414.80 189.05L415.12 189.05L415.44 189.05L415.77 189.05L416.09 189.05L416.41 189.05L416.74 189.04L417.06 189.04L417.38 189.04L417.71 189.03L418.03 189.03L418.35 189.02L418.68 189.02L419.00 189.01L419.32 189.01L419.65 189.00L419.97 189.00L420.29 188.99L420.62 188.99L420.94 188.98L421.26 188.98L421.59 188.97L421.91 188.97L422.23 188.96L422.56 188.95L422.88 188.95L423.20 188.94L423.53 188.94L423.85 188.93L424.17 188.93L424.50 188.92L424.82 188.92L425.14 188.91L425.47 188.91L425.79 188.90L426.11 188.90L426.44 188.89L426.76 188.89L427.08 188.89L427.40 188.88L427.73 188.88L428.05 188.88L428.37 188.88L428.70 188.87L429.02 188.87L429.34 188.87L429.67 188.87L429.99 188.87L430.31 188.87L430.64 188.87L430.96 188.87L431.28 188.87L431.61 188.87L431.93 188.87L432.25 188.87L432.58 188.88L432.90 188.88L433.22 188.88L433.55 188.88L433.87 188.88L434.19 188.89L434.52 188.89L434.84 188.89L435.16 188.90L435.49 188.90L435.81 188.91L436.13 188.91L436.46 188.91L436.78 188.92L437.10 188.92L437.43 188.93L437.75 188.93L438.07 188.93L438.40 188.94L438.72 188.94L439.04 188.95L439.37 188.95L439.69 188.96L440.01 188.96L440.34 188.97L440.66 188.97L440.98 188.97L441.31 188.98L441.63 188.98L441.95 188.98L442.28 188.99L442.60 188.99L442.92 188.99L443.25 189.00L443.57 189.00L443.89 189.00L444.22 189.00L444.54 189.01L444.86 189.01L445.18 189.01L445.51 189.01L445.83 189.01L446.15 189.01L446.48 189.01L446.80 189.01L447.12 189.01L447.45 189.01L447.77 189.01L448.09 189.01L448.42 189.01L448.74 189.01L449.06 189.01L449.39 189.01L449.71 189.00L450.03 189.00L450.36 189.00L450.68 189.00L451.00 189.00L451.33 188.99L451.65 188.99L451.97 188.99L452.30 188.98L452.62 188.98L452.94 188.98L453.27 188.97L453.59 188.97L453.91 188.97L454.24 188.96L454.56 188.96L454.88 188.96L455.21 188.95L455.53 188.95L455.85 188.95L456.18 188.94L456.50 188.94L456.82 188.94L457.15 188.93L457.47 188.93L457.79 188.93L458.12 188.93L458.44 188.92L458.76 188.92L459.09 188.92L459.41 188.92L459.73 188.91L460.06 188.91L460.38 188.91L460.70 188.91L461.03 188.91L461.35 188.91L461.67 188.90L462.00 188.90L462.32 188.90L462.64 188.90L462.96 188.90L463.29 188.90L463.61 188.90L463.93 188.90L464.26 188.90L464.58 188.90L464.90 188.90L465.23 188.90L465.55 188.91L465.87 188.91L466.20 188.91L466.52 188.91L466.84 188.91L467.17 188.91L467.49 188.92L467.81 188.92L468.14 188.92L468.46 188.92L468.78 188.92L469.11 188.93L469.43 188.93L469.75 188.93L470.08 188.93L470.40 188.94L470.72 188.94L471.05 188.94L471.37 188.94L471.69 188.95L472.02 188.95L472.34 188.95L472.66 188.96L472.99 188.96L473.31 188.96L473.63 188.96L473.96 188.96L474.28 188.97L474.60 188.97L474.93 188.97L475.25 188.97L475.57 188.97L475.90 188.98L476.22 188.98L476.54 188.98L476.87 188.98L477.19 188.98L477.51 188.98L477.84 188.98L478.16 188.99L478.48 188.99L478.81 188.99L479.13 188.99L479.45 188.99L479.77 188.99L480.10 188.99L480.42 188.99L480.74 188.99L481.07 188.99L481.39 188.99L481.71 188.98L482.04 188.98L482.36 188.98L482.68 188.98L483.01 188.98L483.33 188.98L483.65 188.98L483.98 188.98L484.30 188.97L484.62 188.97L484.95 188.97L485.27 188.97L485.59 188.97L485.92 188.97L486.24 188.96L486.56 188.96L486.89 188.96L487.21 188.96L487.53 188.96L487.86 188.95L488.18 188.95L488.50 188.95L488.83 188.95L489.15 188.95L489.47 188.94L489.80 188.94L490.12 188.94L490.44 188.94L490.77 188.94L491.09 188.93L491.41 188.93L491.74 188.93L492.06 188.93L492.38 188.93L492.71 188.93L493.03 188.93L493.35 188.93L493.68 188.92L494.00 188.92L494.32 188.92L494.65 188.92L494.97 188.92L495.29 188.92L495.62 188.92L495.94 188.92L496.26 188.92L496.59 188.92L496.91 188.92L497.23 188.92L497.55 188.92L497.88 188.92L498.20 188.92L498.52 188.92L498.85 188.92L499.17 188.93L499.49 188.93L499.82 188.93L500.14 188.93L500.46 188.93L500.79 188.93L501.11 188.93L501.43 188.93L501.76 188.94L502.08 188.94L502.40 188.94L502.73 188.94L503.05 188.94L503.37 188.94L503.70 188.94L504.02 188.95L504.34 188.95L504.67 188.95L504.99 188.95L505.31 188.95L505.64 188.95L505.96 188.96L506.28 188.96L506.61 188.96L506.93 188.96L507.25 188.96L507.58 188.96L507.90 188.96L508.22 188.96L508.55 188.97L508.87 188.97L509.19 188.97L509.52 188.97L509.84 188.97L510.16 188.97L510.49 188.97L510.81 188.97L511.13 188.97L511.46 188.97L511.78 188.97L512.10 188.97L512.43 188.97L512.75 188.97L513.07 188.97L513.40 188.97L513.72 188.97L514.04 188.97L514.37 188.97L514.69 188.97L515.01 188.97L515.33 188.97L515.66 188.97L515.98 188.97L516.30 188.97L516.63 188.97L516.95 188.97L517.27 188.96L517.60 188.96L517.92 188.96L518.24 188.96L518.57 188.96L518.89 188.96L519.21 188.96L519.54 188.96L519.86 188.96L520.18 188.95L520.51 188.95L520.83 188.95L521.15 188.95L521.48 188.95L521.80 188.95L522.12 188.95L522.45 188.95L522.77 188.94L523.09 188.94L523.42 188.94L523.74 188.94L524.06 188.94L524.39 188.94L524.71 188.94L525.03 188.94L525.36 188.94L525.68 188.94L526.00 188.94L526.33 188.94L526.65 188.93L526.97 188.93L527.30 188.93L527.62 188.93L527.94 188.93L528.27 188.93L528.59 188.93L528.91 188.93L529.24 188.93L529.56 188.93L529.88 188.93L530.21 188.93L530.53 188.93L530.85 188.93L531.18 188.93L531.50 188.93L531.82 188.94L532.14 188.94L532.47 188.94L532.79 188.94L533.11 188.94L533.44 188.94L533.76 188.94L534.08 188.94L534.41 188.94L534.73 188.94L535.05 188.94L535.38 188.94L535.70 188.94L536.02 188.95L536.35 188.95L536.67 188.95L536.99 188.95L537.32 188.95L537.64 188.95L537.96 188.95L538.29 188.95L538.61 188.95L538.93 188.95L539.26 188.95L539.58 188.96L539.90 188.96L540.23 188.96L540.55 188.96" fill="none" stroke="#90d068" stroke-width="4.4" stroke-linejoin="round" stroke-linecap="round"/><path d="M44.05 188.95L44.08 193.89L44.11 198.68L44.14 203.27L44.17 207.64L44.20 211.76L44.23 215.89L44.26 220.15L44.29 224.31L44.32 228.15L44.35 231.44L44.38 233.95L44.41 235.53L44.44 236.83L44.47 238.04L44.50 239.14L44.53 240.12L44.56 240.96L44.59 241.64L44.62 242.14L44.65 242.45L44.68 242.62L44.71 242.71L44.74 242.74L44.77 242.71L44.80 242.63L44.83 242.52L44.86 242.37L44.89 242.21L44.92 242.03L44.95 241.85L44.98 241.62L45.01 241.29L45.04 240.89L45.07 240.42L45.10 239.88L45.13 239.29L45.15 238.67L45.18 238.01L45.21 237.33L45.24 236.65L45.27 235.96L45.30 235.28L45.33 234.62L45.36 233.96L45.39 233.28L45.42 232.57L45.45 231.83L45.48 231.08L45.51 230.31L45.54 229.53L45.57 228.75L45.60 227.97L45.63 227.18L45.66 226.41L45.69 225.64L45.72 224.90L45.75 224.17L45.78 223.43L45.81 222.68L45.84 221.93L45.87 221.17L45.90 220.43L45.93 219.68L45.96 218.95L45.99 218.24L46.02 217.54L46.05 216.87L46.08 216.22L46.11 215.60L46.14 215.02L46.17 214.46L46.20 213.90L46.23 213.35L46.26 212.81L46.29 212.27L46.32 211.75L46.35 211.24L46.38 210.73L46.41 210.24L46.44 209.77L46.47 209.31L46.50 208.86L46.53 208.43L46.56 208.02L46.59 207.62L46.62 207.25L46.65 206.89L46.68 206.56L46.71 206.25L46.74 205.96L46.77 205.68L46.80 205.41L46.83 205.15L46.86 204.89L46.89 204.64L46.92 204.41L46.95 204.18L46.98 203.95L47.01 203.74L47.04 203.53L47.07 203.34L47.10 203.15L47.13 202.98L47.16 202.81L47.19 202.65L47.22 202.50L47.25 202.36L47.28 202.24L47.31 202.12L47.34 202.01L47.36 201.91L47.39 201.83L47.42 201.76L47.45 201.69L47.48 201.63L47.51 201.57L47.54 201.51L47.57 201.46L47.60 201.42L47.63 201.38L47.66 201.35L47.69 201.33L47.72 201.32L47.75 201.31L47.78 201.31L47.81 201.33L47.84 201.35L47.87 201.38L47.90 201.43L47.93 201.49L47.96 201.55L47.99 201.61L48.02 201.68L48.05 201.74L48.08 201.81L48.11 201.88L48.14 201.96L48.17 202.03L48.20 202.11L48.23 202.20L48.26 202.28L48.29 202.37L48.32 202.46L48.35 202.56L48.38 202.66L48.41 202.76L48.44 202.87L48.47 202.98L48.50 203.10L48.53 203.22L48.56 203.34L48.59 203.46L48.62 203.58L48.65 203.70L48.68 203.82L48.71 203.94L48.74 204.06L48.77 204.18L48.80 204.30L48.83 204.42L48.86 204.54L48.89 204.66L48.92 204.79L48.95 204.91L48.98 205.03L49.01 205.15L49.04 205.28L49.07 205.40L49.10 205.52L49.13 205.65L49.16 205.78L49.19 205.90L49.22 206.03L49.25 206.16L49.28 206.29L49.31 206.42L49.34 206.55L49.37 206.68L49.40 206.81L49.43 206.93L49.46 207.06L49.49 207.19L49.52 207.32L49.55 207.44L49.57 207.57L49.60 207.70L49.63 207.83L49.66 207.95L49.69 208.08L49.72 208.20L49.75 208.33L49.78 208.45L49.81 208.58L49.84 208.70L49.87 208.83L49.90 208.95L49.93 209.07L49.96 209.20L49.99 209.32L50.02 209.44L50.05 209.56L50.08 209.68L50.11 209.80L50.14 209.92L50.17 210.04L50.20 210.16L50.23 210.28L50.26 210.40L50.29 210.51L50.32 210.63L50.35 210.75L50.38 210.86L50.41 210.97L50.44 211.09L50.47 211.20L50.50 211.32L50.53 211.45L50.56 211.58L50.59 211.71L50.62 211.85L50.65 211.99L50.68 212.14L50.71 212.29L50.74 212.44L50.77 212.60L50.80 212.76L50.83 212.92L50.86 213.08L50.89 213.25L50.92 213.42L50.95 213.59L50.98 213.76L51.01 213.93L51.04 214.10L51.07 214.27L51.10 214.44L51.13 214.61L51.16 214.78L51.19 214.94L51.22 215.11L51.25 215.28L51.28 215.44L51.31 215.60L51.34 215.76L51.37 215.91L51.40 216.06L51.43 216.21L51.46 216.35L51.49 216.50L51.52 216.63L51.55 216.77L51.58 216.91L51.61 217.05L51.64 217.20L51.67 217.34L51.70 217.49L51.73 217.63L51.76 217.78L51.78 217.92L51.81 218.07L51.84 218.21L51.87 218.36L51.90 218.50L51.93 218.64L51.96 218.78L51.99 218.92L52.02 219.05L52.05 219.19L52.08 219.32L52.11 219.44L52.14 219.57L52.17 219.69L52.20 219.80L52.23 219.91L52.26 220.02L52.29 220.12L52.32 220.22L52.35 220.31L52.38 220.40L52.41 220.48L52.44 220.55L52.47 220.62L52.50 220.68L52.53 220.73L52.56 220.78L52.59 220.82L52.62 220.85L52.65 220.88L52.68 220.91L52.71 220.94L52.74 220.97L52.77 221.00L52.80 221.03L52.83 221.05L52.86 221.07L52.89 221.10L52.92 221.12L52.95 221.13L52.98 221.15L53.01 221.17L53.04 221.18L53.07 221.19L53.10 221.20L53.13 221.21L53.16 221.22L53.19 221.23L53.22 221.23L53.25 221.24L53.28 221.24L53.31 221.24L53.34 221.24L53.37 221.23L53.40 221.23L53.43 221.22L53.46 221.22L53.49 221.21L53.52 221.20L53.55 221.18L53.58 221.17L53.61 221.15L53.64 221.14L53.67 221.12L53.70 221.10L53.73 221.07L53.76 221.05L53.79 221.02L53.82 221.00L53.85 220.97L53.88 220.94L53.91 220.90L53.94 220.87L53.97 220.83L53.99 220.80L54.02 220.76L54.05 220.72L54.08 220.68L54.11 220.64L54.14 220.60L54.17 220.55L54.20 220.51L54.23 220.46L54.26 220.42L54.29 220.37L54.32 220.32L54.35 220.27L54.38 220.22L54.41 220.17L54.44 220.12L54.47 220.06L54.50 220.01L54.53 219.95L54.56 219.90L54.59 219.84L54.62 219.78L54.65 219.72L54.68 219.66L54.71 219.60L54.74 219.54L54.77 219.48L54.80 219.41L54.83 219.35L54.86 219.28L54.89 219.21L54.92 219.15L54.95 219.08L54.98 219.01L55.01 218.94L55.04 218.87L55.07 218.80L55.10 218.72L55.13 218.65L55.16 218.57L55.19 218.50L55.22 218.42L55.25 218.34L55.28 218.26L55.31 218.18L55.34 218.10L55.37 218.02L55.40 217.94L55.43 217.86L55.46 217.77L55.49 217.69L55.52 217.60L55.55 217.52L55.58 217.43L55.61 217.34L55.64 217.25L55.67 217.16L55.70 217.07L55.73 216.98L55.76 216.89L55.79 216.80L55.82 216.70L55.85 216.61L55.88 216.51L55.91 216.42L55.94 216.32L55.97 216.22L56.29 215.11L56.61 213.91L56.94 212.62L57.26 211.26L57.58 209.83L57.91 208.33L58.23 206.77L58.55 205.16L58.88 203.50L59.20 201.81L59.52 200.08L59.85 198.33L60.17 196.56L60.49 194.78L60.82 193.00L61.14 191.21L61.46 189.44L61.78 187.69L62.11 185.95L62.43 184.25L62.75 182.58L63.08 180.95L63.40 179.37L63.72 177.84L64.05 176.37L64.37 174.97L64.69 173.63L65.02 172.36L65.34 171.17L65.66 170.07L65.99 169.04L66.31 168.10L66.63 167.25L66.96 166.50L67.28 165.83L67.60 165.26L67.93 164.79L68.25 164.42L68.57 164.14L68.90 163.96L69.22 163.88L69.54 163.90L69.87 164.01L70.19 164.22L70.51 164.51L70.84 164.90L71.16 165.38L71.48 165.94L71.81 166.59L72.13 167.31L72.45 168.11L72.78 168.98L73.10 169.92L73.42 170.93L73.75 171.99L74.07 173.10L74.39 174.27L74.72 175.48L75.04 176.73L75.36 178.01L75.69 179.32L76.01 180.65L76.33 182.01L76.66 183.37L76.98 184.75L77.30 186.12L77.63 187.49L77.95 188.86L78.27 190.21L78.60 191.54L78.92 192.85L79.24 194.13L79.56 195.37L79.89 196.58L80.21 197.75L80.53 198.87L80.86 199.94L81.18 200.96L81.50 201.93L81.83 202.83L82.15 203.67L82.47 204.45L82.80 205.16L83.12 205.80L83.44 206.36L83.77 206.86L84.09 207.28L84.41 207.63L84.74 207.90L85.06 208.10L85.38 208.22L85.71 208.27L86.03 208.24L86.35 208.14L86.68 207.96L87.00 207.72L87.32 207.41L87.65 207.02L87.97 206.58L88.29 206.07L88.62 205.50L88.94 204.87L89.26 204.18L89.59 203.45L89.91 202.67L90.23 201.84L90.56 200.97L90.88 200.07L91.20 199.13L91.53 198.16L91.85 197.17L92.17 196.16L92.50 195.12L92.82 194.08L93.14 193.03L93.47 191.97L93.79 190.91L94.11 189.85L94.44 188.80L94.76 187.77L95.08 186.74L95.41 185.74L95.73 184.76L96.05 183.80L96.37 182.88L96.70 181.99L97.02 181.13L97.34 180.31L97.67 179.53L97.99 178.80L98.31 178.12L98.64 177.48L98.96 176.89L99.28 176.36L99.61 175.87L99.93 175.45L100.25 175.08L100.58 174.76L100.90 174.51L101.22 174.31L101.55 174.17L101.87 174.09L102.19 174.07L102.52 174.10L102.84 174.19L103.16 174.33L103.49 174.53L103.81 174.79L104.13 175.09L104.46 175.45L104.78 175.85L105.10 176.30L105.43 176.79L105.75 177.33L106.07 177.90L106.40 178.51L106.72 179.16L107.04 179.83L107.37 180.53L107.69 181.26L108.01 182.01L108.34 182.78L108.66 183.56L108.98 184.36L109.31 185.17L109.63 185.98L109.95 186.80L110.28 187.61L110.60 188.43L110.92 189.23L111.25 190.03L111.57 190.81L111.89 191.58L112.22 192.34L112.54 193.07L112.86 193.77L113.19 194.46L113.51 195.11L113.83 195.73L114.15 196.33L114.48 196.88L114.80 197.40L115.12 197.89L115.45 198.33L115.77 198.73L116.09 199.10L116.42 199.42L116.74 199.69L117.06 199.92L117.39 200.11L117.71 200.26L118.03 200.35L118.36 200.41L118.68 200.42L119.00 200.38L119.33 200.30L119.65 200.18L119.97 200.02L120.30 199.82L120.62 199.57L120.94 199.29L121.27 198.97L121.59 198.62L121.91 198.23L122.24 197.81L122.56 197.37L122.88 196.89L123.21 196.39L123.53 195.86L123.85 195.32L124.18 194.75L124.50 194.17L124.82 193.58L125.15 192.97L125.47 192.36L125.79 191.73L126.12 191.11L126.44 190.48L126.76 189.85L127.09 189.22L127.41 188.60L127.73 187.99L128.06 187.39L128.38 186.80L128.70 186.22L129.03 185.66L129.35 185.12L129.67 184.60L130.00 184.10L130.32 183.63L130.64 183.17L130.96 182.75L131.29 182.36L131.61 181.99L131.93 181.65L132.26 181.35L132.58 181.08L132.90 180.84L133.23 180.63L133.55 180.46L133.87 180.32L134.20 180.22L134.52 180.15L134.84 180.12L135.17 180.12L135.49 180.15L135.81 180.22L136.14 180.32L136.46 180.45L136.78 180.62L137.11 180.81L137.43 181.03L137.75 181.28L138.08 181.56L138.40 181.86L138.72 182.19L139.05 182.54L139.37 182.91L139.69 183.30L140.02 183.71L140.34 184.13L140.66 184.57L140.99 185.02L141.31 185.48L141.63 185.95L141.96 186.43L142.28 186.91L142.60 187.39L142.93 187.88L143.25 188.36L143.57 188.84L143.90 189.32L144.22 189.79L144.54 190.25L144.87 190.70L145.19 191.14L145.51 191.57L145.84 191.99L146.16 192.38L146.48 192.76L146.81 193.13L147.13 193.47L147.45 193.79L147.78 194.09L148.10 194.37L148.42 194.62L148.74 194.85L149.07 195.06L149.39 195.24L149.71 195.39L150.04 195.51L150.36 195.62L150.68 195.69L151.01 195.74L151.33 195.76L151.65 195.75L151.98 195.72L152.30 195.66L152.62 195.58L152.95 195.47L153.27 195.34L153.59 195.19L153.92 195.01L154.24 194.81L154.56 194.60L154.89 194.36L155.21 194.10L155.53 193.83L155.86 193.54L156.18 193.24L156.50 192.92L156.83 192.59L157.15 192.25L157.47 191.90L157.80 191.55L158.12 191.18L158.44 190.82L158.77 190.45L159.09 190.07L159.41 189.70L159.74 189.33L160.06 188.96L160.38 188.59L160.71 188.23L161.03 187.87L161.35 187.53L161.68 187.19L162.00 186.86L162.32 186.55L162.65 186.24L162.97 185.95L163.29 185.67L163.62 185.41L163.94 185.17L164.26 184.94L164.59 184.73L164.91 184.54L165.23 184.37L165.56 184.21L165.88 184.08L166.20 183.97L166.52 183.87L166.85 183.80L167.17 183.75L167.49 183.72L167.82 183.70L168.14 183.71L168.46 183.74L168.79 183.79L169.11 183.86L169.43 183.94L169.76 184.05L170.08 184.17L170.40 184.31L170.73 184.47L171.05 184.64L171.37 184.82L171.70 185.02L172.02 185.24L172.34 185.46L172.67 185.70L172.99 185.94L173.31 186.20L173.64 186.46L173.96 186.73L174.28 187.01L174.61 187.29L174.93 187.57L175.25 187.86L175.58 188.15L175.90 188.43L176.22 188.72L176.55 189.00L176.87 189.29L177.19 189.56L177.52 189.84L177.84 190.10L178.16 190.36L178.49 190.61L178.81 190.85L179.13 191.08L179.46 191.31L179.78 191.52L180.10 191.71L180.43 191.90L180.75 192.07L181.07 192.23L181.40 192.38L181.72 192.51L182.04 192.62L182.37 192.72L182.69 192.81L183.01 192.87L183.33 192.93L183.66 192.96L183.98 192.99L184.30 192.99L184.63 192.98L184.95 192.96L185.27 192.92L185.60 192.86L185.92 192.79L186.24 192.71L186.57 192.61L186.89 192.50L187.21 192.38L187.54 192.24L187.86 192.10L188.18 191.94L188.51 191.78L188.83 191.60L189.15 191.42L189.48 191.23L189.80 191.03L190.12 190.82L190.45 190.61L190.77 190.40L191.09 190.18L191.42 189.97L191.74 189.75L192.06 189.52L192.39 189.30L192.71 189.08L193.03 188.86L193.36 188.65L193.68 188.43L194.00 188.22L194.33 188.02L194.65 187.82L194.97 187.63L195.30 187.45L195.62 187.27L195.94 187.10L196.27 186.94L196.59 186.79L196.91 186.65L197.24 186.52L197.56 186.40L197.88 186.29L198.21 186.19L198.53 186.10L198.85 186.03L199.18 185.97L199.50 185.92L199.82 185.88L200.15 185.85L200.47 185.84L200.79 185.84L201.11 185.85L201.44 185.87L201.76 185.90L202.08 185.95L202.41 186.00L202.73 186.07L203.05 186.15L203.38 186.23L203.70 186.33L204.02 186.44L204.35 186.55L204.67 186.67L204.99 186.80L205.32 186.94L205.64 187.08L205.96 187.23L206.29 187.38L206.61 187.54L206.93 187.70L207.26 187.87L207.58 188.03L207.90 188.20L208.23 188.37L208.55 188.54L208.87 188.71L209.20 188.88L209.52 189.05L209.84 189.22L210.17 189.38L210.49 189.54L210.81 189.70L211.14 189.85L211.46 190.00L211.78 190.14L212.11 190.27L212.43 190.40L212.75 190.52L213.08 190.64L213.40 190.75L213.72 190.84L214.05 190.94L214.37 191.02L214.69 191.09L215.02 191.16L215.34 191.21L215.66 191.26L215.99 191.29L216.31 191.32L216.63 191.34L216.96 191.35L217.28 191.35L217.60 191.34L217.93 191.32L218.25 191.29L218.57 191.26L218.89 191.21L219.22 191.16L219.54 191.10L219.86 191.03L220.19 190.95L220.51 190.87L220.83 190.78L221.16 190.69L221.48 190.58L221.80 190.48L222.13 190.37L222.45 190.25L222.77 190.13L223.10 190.01L223.42 189.89L223.74 189.76L224.07 189.63L224.39 189.50L224.71 189.37L225.04 189.24L225.36 189.10L225.68 188.97L226.01 188.84L226.33 188.72L226.65 188.59L226.98 188.47L227.30 188.35L227.62 188.23L227.95 188.12L228.27 188.01L228.59 187.91L228.92 187.81L229.24 187.72L229.56 187.63L229.89 187.55L230.21 187.48L230.53 187.41L230.86 187.34L231.18 187.29L231.50 187.24L231.83 187.20L232.15 187.17L232.47 187.14L232.80 187.12L233.12 187.11L233.44 187.10L233.77 187.10L234.09 187.11L234.41 187.13L234.74 187.15L235.06 187.18L235.38 187.22L235.70 187.26L236.03 187.31L236.35 187.36L236.67 187.42L237.00 187.48L237.32 187.55L237.64 187.63L237.97 187.71L238.29 187.79L238.61 187.88L238.94 187.97L239.26 188.06L239.58 188.15L239.91 188.25L240.23 188.35L240.55 188.45L240.88 188.55L241.20 188.65L241.52 188.75L241.85 188.85L242.17 188.95L242.49 189.05L242.82 189.15L243.14 189.25L243.46 189.34L243.79 189.43L244.11 189.52L244.43 189.61L244.76 189.69L245.08 189.77L245.40 189.84L245.73 189.91L246.05 189.98L246.37 190.04L246.70 190.10L247.02 190.15L247.34 190.20L247.67 190.24L247.99 190.27L248.31 190.30L248.64 190.33L248.96 190.35L249.28 190.36L249.61 190.37L249.93 190.37L250.25 190.37L250.58 190.36L250.90 190.35L251.22 190.33L251.55 190.31L251.87 190.28L252.19 190.25L252.52 190.21L252.84 190.17L253.16 190.12L253.48 190.07L253.81 190.01L254.13 189.96L254.45 189.89L254.78 189.83L255.10 189.76L255.42 189.69L255.75 189.62L256.07 189.55L256.39 189.47L256.72 189.40L257.04 189.32L257.36 189.24L257.69 189.16L258.01 189.09L258.33 189.01L258.66 188.93L258.98 188.86L259.30 188.78L259.63 188.71L259.95 188.63L260.27 188.56L260.60 188.50L260.92 188.43L261.24 188.37L261.57 188.31L261.89 188.25L262.21 188.20L262.54 188.15L262.86 188.10L263.18 188.06L263.51 188.02L263.83 187.98L264.15 187.95L264.48 187.92L264.80 187.90L265.12 187.88L265.45 187.87L265.77 187.86L266.09 187.85L266.42 187.85L266.74 187.86L267.06 187.86L267.39 187.87L267.71 187.89L268.03 187.91L268.36 187.93L268.68 187.96L269.00 187.99L269.33 188.02L269.65 188.06L269.97 188.10L270.30 188.14L270.62 188.19L270.94 188.23L271.26 188.28L271.59 188.33L271.91 188.39L272.23 188.44L272.56 188.50L272.88 188.56L273.20 188.62L273.53 188.68L273.85 188.74L274.17 188.80L274.50 188.86L274.82 188.92L275.14 188.98L275.47 189.04L275.79 189.09L276.11 189.15L276.44 189.21L276.76 189.26L277.08 189.31L277.41 189.36L277.73 189.41L278.05 189.45L278.38 189.50L278.70 189.54L279.02 189.58L279.35 189.61L279.67 189.64L279.99 189.67L280.32 189.70L280.64 189.72L280.96 189.74L281.29 189.76L281.61 189.77L281.93 189.78L282.26 189.79L282.58 189.79L282.90 189.80L283.23 189.79L283.55 189.79L283.87 189.78L284.20 189.76L284.52 189.75L284.84 189.73L285.17 189.71L285.49 189.69L285.81 189.66L286.14 189.63L286.46 189.60L286.78 189.57L287.11 189.53L287.43 189.49L287.75 189.46L288.07 189.42L288.40 189.37L288.72 189.33L289.04 189.29L289.37 189.24L289.69 189.20L290.01 189.15L290.34 189.10L290.66 189.06L290.98 189.01L291.31 188.97L291.63 188.92L291.95 188.87L292.28 188.83L292.60 188.79L292.92 188.74L293.25 188.70L293.57 188.66L293.89 188.63L294.22 188.59L294.54 188.55L294.86 188.52L295.19 188.49L295.51 188.46L295.83 188.43L296.16 188.41L296.48 188.39L296.80 188.37L297.13 188.35L297.45 188.34L297.77 188.32L298.10 188.31L298.42 188.31L298.74 188.30L299.07 188.30L299.39 188.30L299.71 188.30L300.04 188.31L300.36 188.31L300.68 188.32L301.01 188.34L301.33 188.35L301.65 188.37L301.98 188.39L302.30 188.41L302.62 188.43L302.95 188.45L303.27 188.48L303.59 188.51L303.92 188.54L304.24 188.57L304.56 188.60L304.89 188.63L305.21 188.66L305.53 188.70L305.85 188.73L306.18 188.77L306.50 188.80L306.82 188.84L307.15 188.87L307.47 188.91L307.79 188.95L308.12 188.98L308.44 189.02L308.76 189.05L309.09 189.08L309.41 189.11L309.73 189.15L310.06 189.18L310.38 189.21L310.70 189.23L311.03 189.26L311.35 189.29L311.67 189.31L312.00 189.33L312.32 189.35L312.64 189.37L312.97 189.39L313.29 189.40L313.61 189.41L313.94 189.43L314.26 189.43L314.58 189.44L314.91 189.45L315.23 189.45L315.55 189.45L315.88 189.45L316.20 189.45L316.52 189.44L316.85 189.44L317.17 189.43L317.49 189.42L317.82 189.41L318.14 189.40L318.46 189.38L318.79 189.36L319.11 189.35L319.43 189.33L319.76 189.31L320.08 189.29L320.40 189.26L320.73 189.24L321.05 189.22L321.37 189.19L321.70 189.17L322.02 189.14L322.34 189.11L322.66 189.08L322.99 189.06L323.31 189.03L323.63 189.00L323.96 188.98L324.28 188.95L324.60 188.92L324.93 188.89L325.25 188.87L325.57 188.84L325.90 188.82L326.22 188.79L326.54 188.77L326.87 188.75L327.19 188.73L327.51 188.71L327.84 188.69L328.16 188.67L328.48 188.65L328.81 188.64L329.13 188.62L329.45 188.61L329.78 188.60L330.10 188.59L330.42 188.58L330.75 188.58L331.07 188.57L331.39 188.57L331.72 188.56L332.04 188.56L332.36 188.56L332.69 188.57L333.01 188.57L333.33 188.58L333.66 188.58L333.98 188.59L334.30 188.60L334.63 188.61L334.95 188.62L335.27 188.63L335.60 188.65L335.92 188.66L336.24 188.68L336.57 188.69L336.89 188.71L337.21 188.73L337.54 188.75L337.86 188.77L338.18 188.79L338.51 188.81L338.83 188.83L339.15 188.85L339.48 188.87L339.80 188.89L340.12 188.91L340.44 188.94L340.77 188.96L341.09 188.98L341.41 189.00L341.74 189.02L342.06 189.04L342.38 189.06L342.71 189.07L343.03 189.09L343.35 189.11L343.68 189.13L344.00 189.14L344.32 189.16L344.65 189.17L344.97 189.18L345.29 189.19L345.62 189.20L345.94 189.21L346.26 189.22L346.59 189.23L346.91 189.23L347.23 189.24L347.56 189.24L347.88 189.25L348.20 189.25L348.53 189.25L348.85 189.25L349.17 189.25L349.50 189.24L349.82 189.24L350.14 189.23L350.47 189.23L350.79 189.22L351.11 189.21L351.44 189.20L351.76 189.19L352.08 189.18L352.41 189.17L352.73 189.16L353.05 189.14L353.38 189.13L353.70 189.12L354.02 189.10L354.35 189.09L354.67 189.07L354.99 189.06L355.32 189.04L355.64 189.02L355.96 189.01L356.29 188.99L356.61 188.97L356.93 188.96L357.26 188.94L357.58 188.93L357.90 188.91L358.22 188.89L358.55 188.88L358.87 188.87L359.19 188.85L359.52 188.84L359.84 188.82L360.16 188.81L360.49 188.80L360.81 188.79L361.13 188.78L361.46 188.77L361.78 188.76L362.10 188.75L362.43 188.75L362.75 188.74L363.07 188.73L363.40 188.73L363.72 188.73L364.04 188.72L364.37 188.72L364.69 188.72L365.01 188.72L365.34 188.72L365.66 188.72L365.98 188.73L366.31 188.73L366.63 188.73L366.95 188.74L367.28 188.74L367.60 188.75L367.92 188.76L368.25 188.77L368.57 188.77L368.89 188.78L369.22 188.79L369.54 188.80L369.86 188.81L370.19 188.82L370.51 188.84L370.83 188.85L371.16 188.86L371.48 188.87L371.80 188.88L372.13 188.90L372.45 188.91L372.77 188.92L373.10 188.93L373.42 188.95L373.74 188.96L374.07 188.97L374.39 188.98L374.71 188.99L375.03 189.01L375.36 189.02L375.68 189.03L376.00 189.04L376.33 189.05L376.65 189.06L376.97 189.07L377.30 189.08L377.62 189.08L377.94 189.09L378.27 189.10L378.59 189.10L378.91 189.11L379.24 189.11L379.56 189.12L379.88 189.12L380.21 189.12L380.53 189.12L380.85 189.13L381.18 189.13L381.50 189.13L381.82 189.13L382.15 189.12L382.47 189.12L382.79 189.12L383.12 189.12L383.44 189.11L383.76 189.11L384.09 189.10L384.41 189.10L384.73 189.09L385.06 189.08L385.38 189.08L385.70 189.07L386.03 189.06L386.35 189.05L386.67 189.05L387.00 189.04L387.32 189.03L387.64 189.02L387.97 189.01L388.29 189.00L388.61 188.99L388.94 188.98L389.26 188.97L389.58 188.96L389.91 188.95L390.23 188.94L390.55 188.93L390.88 188.92L391.20 188.91L391.52 188.90L391.85 188.90L392.17 188.89L392.49 188.88L392.81 188.87L393.14 188.87L393.46 188.86L393.78 188.85L394.11 188.85L394.43 188.84L394.75 188.84L395.08 188.83L395.40 188.83L395.72 188.82L396.05 188.82L396.37 188.82L396.69 188.82L397.02 188.81L397.34 188.81L397.66 188.81L397.99 188.81L398.31 188.81L398.63 188.82L398.96 188.82L399.28 188.82L399.60 188.82L399.93 188.83L400.25 188.83L400.57 188.83L400.90 188.84L401.22 188.84L401.54 188.85L401.87 188.85L402.19 188.86L402.51 188.87L402.84 188.87L403.16 188.88L403.48 188.88L403.81 188.89L404.13 188.90L404.45 188.91L404.78 188.91L405.10 188.92L405.42 188.93L405.75 188.94L406.07 188.94L406.39 188.95L406.72 188.96L407.04 188.97L407.36 188.97L407.69 188.98L408.01 188.99L408.33 188.99L408.66 189.00L408.98 189.01L409.30 189.01L409.63 189.02L409.95 189.02L410.27 189.03L410.59 189.03L410.92 189.04L411.24 189.04L411.56 189.04L411.89 189.05L412.21 189.05L412.53 189.05L412.86 189.05L413.18 189.05L413.50 189.05L413.83 189.05L414.15 189.05L414.47 189.05L414.80 189.05L415.12 189.05L415.44 189.05L415.77 189.05L416.09 189.05L416.41 189.05L416.74 189.04L417.06 189.04L417.38 189.04L417.71 189.03L418.03 189.03L418.35 189.02L418.68 189.02L419.00 189.01L419.32 189.01L419.65 189.00L419.97 189.00L420.29 188.99L420.62 188.99L420.94 188.98L421.26 188.98L421.59 188.97L421.91 188.97L422.23 188.96L422.56 188.95L422.88 188.95L423.20 188.94L423.53 188.94L423.85 188.93L424.17 188.93L424.50 188.92L424.82 188.92L425.14 188.91L425.47 188.91L425.79 188.90L426.11 188.90L426.44 188.89L426.76 188.89L427.08 188.89L427.40 188.88L427.73 188.88L428.05 188.88L428.37 188.88L428.70 188.87L429.02 188.87L429.34 188.87L429.67 188.87L429.99 188.87L430.31 188.87L430.64 188.87L430.96 188.87L431.28 188.87L431.61 188.87L431.93 188.87L432.25 188.87L432.58 188.88L432.90 188.88L433.22 188.88L433.55 188.88L433.87 188.88L434.19 188.89L434.52 188.89L434.84 188.89L435.16 188.90L435.49 188.90L435.81 188.91L436.13 188.91L436.46 188.91L436.78 188.92L437.10 188.92L437.43 188.93L437.75 188.93L438.07 188.93L438.40 188.94L438.72 188.94L439.04 188.95L439.37 188.95L439.69 188.96L440.01 188.96L440.34 188.97L440.66 188.97L440.98 188.97L441.31 188.98L441.63 188.98L441.95 188.98L442.28 188.99L442.60 188.99L442.92 188.99L443.25 189.00L443.57 189.00L443.89 189.00L444.22 189.00L444.54 189.01L444.86 189.01L445.18 189.01L445.51 189.01L445.83 189.01L446.15 189.01L446.48 189.01L446.80 189.01L447.12 189.01L447.45 189.01L447.77 189.01L448.09 189.01L448.42 189.01L448.74 189.01L449.06 189.01L449.39 189.01L449.71 189.00L450.03 189.00L450.36 189.00L450.68 189.00L451.00 189.00L451.33 188.99L451.65 188.99L451.97 188.99L452.30 188.98L452.62 188.98L452.94 188.98L453.27 188.97L453.59 188.97L453.91 188.97L454.24 188.96L454.56 188.96L454.88 188.96L455.21 188.95L455.53 188.95L455.85 188.95L456.18 188.94L456.50 188.94L456.82 188.94L457.15 188.93L457.47 188.93L457.79 188.93L458.12 188.93L458.44 188.92L458.76 188.92L459.09 188.92L459.41 188.92L459.73 188.91L460.06 188.91L460.38 188.91L460.70 188.91L461.03 188.91L461.35 188.91L461.67 188.90L462.00 188.90L462.32 188.90L462.64 188.90L462.96 188.90L463.29 188.90L463.61 188.90L463.93 188.90L464.26 188.90L464.58 188.90L464.90 188.90L465.23 188.90L465.55 188.91L465.87 188.91L466.20 188.91L466.52 188.91L466.84 188.91L467.17 188.91L467.49 188.92L467.81 188.92L468.14 188.92L468.46 188.92L468.78 188.92L469.11 188.93L469.43 188.93L469.75 188.93L470.08 188.93L470.40 188.94L470.72 188.94L471.05 188.94L471.37 188.94L471.69 188.95L472.02 188.95L472.34 188.95L472.66 188.96L472.99 188.96L473.31 188.96L473.63 188.96L473.96 188.96L474.28 188.97L474.60 188.97L474.93 188.97L475.25 188.97L475.57 188.97L475.90 188.98L476.22 188.98L476.54 188.98L476.87 188.98L477.19 188.98L477.51 188.98L477.84 188.98L478.16 188.99L478.48 188.99L478.81 188.99L479.13 188.99L479.45 188.99L479.77 188.99L480.10 188.99L480.42 188.99L480.74 188.99L481.07 188.99L481.39 188.99L481.71 188.98L482.04 188.98L482.36 188.98L482.68 188.98L483.01 188.98L483.33 188.98L483.65 188.98L483.98 188.98L484.30 188.97L484.62 188.97L484.95 188.97L485.27 188.97L485.59 188.97L485.92 188.97L486.24 188.96L486.56 188.96L486.89 188.96L487.21 188.96L487.53 188.96L487.86 188.95L488.18 188.95L488.50 188.95L488.83 188.95L489.15 188.95L489.47 188.94L489.80 188.94L490.12 188.94L490.44 188.94L490.77 188.94L491.09 188.93L491.41 188.93L491.74 188.93L492.06 188.93L492.38 188.93L492.71 188.93L493.03 188.93L493.35 188.93L493.68 188.92L494.00 188.92L494.32 188.92L494.65 188.92L494.97 188.92L495.29 188.92L495.62 188.92L495.94 188.92L496.26 188.92L496.59 188.92L496.91 188.92L497.23 188.92L497.55 188.92L497.88 188.92L498.20 188.92L498.52 188.92L498.85 188.92L499.17 188.93L499.49 188.93L499.82 188.93L500.14 188.93L500.46 188.93L500.79 188.93L501.11 188.93L501.43 188.93L501.76 188.94L502.08 188.94L502.40 188.94L502.73 188.94L503.05 188.94L503.37 188.94L503.70 188.94L504.02 188.95L504.34 188.95L504.67 188.95L504.99 188.95L505.31 188.95L505.64 188.95L505.96 188.96L506.28 188.96L506.61 188.96L506.93 188.96L507.25 188.96L507.58 188.96L507.90 188.96L508.22 188.96L508.55 188.97L508.87 188.97L509.19 188.97L509.52 188.97L509.84 188.97L510.16 188.97L510.49 188.97L510.81 188.97L511.13 188.97L511.46 188.97L511.78 188.97L512.10 188.97L512.43 188.97L512.75 188.97L513.07 188.97L513.40 188.97L513.72 188.97L514.04 188.97L514.37 188.97L514.69 188.97L515.01 188.97L515.33 188.97L515.66 188.97L515.98 188.97L516.30 188.97L516.63 188.97L516.95 188.97L517.27 188.96L517.60 188.96L517.92 188.96L518.24 188.96L518.57 188.96L518.89 188.96L519.21 188.96L519.54 188.96L519.86 188.96L520.18 188.95L520.51 188.95L520.83 188.95L521.15 188.95L521.48 188.95L521.80 188.95L522.12 188.95L522.45 188.95L522.77 188.94L523.09 188.94L523.42 188.94L523.74 188.94L524.06 188.94L524.39 188.94L524.71 188.94L525.03 188.94L525.36 188.94L525.68 188.94L526.00 188.94L526.33 188.94L526.65 188.93L526.97 188.93L527.30 188.93L527.62 188.93L527.94 188.93L528.27 188.93L528.59 188.93L528.91 188.93L529.24 188.93L529.56 188.93L529.88 188.93L530.21 188.93L530.53 188.93L530.85 188.93L531.18 188.93L531.50 188.93L531.82 188.94L532.14 188.94L532.47 188.94L532.79 188.94L533.11 188.94L533.44 188.94L533.76 188.94L534.08 188.94L534.41 188.94L534.73 188.94L535.05 188.94L535.38 188.94L535.70 188.94L536.02 188.95L536.35 188.95L536.67 188.95L536.99 188.95L537.32 188.95L537.64 188.95L537.96 188.95L538.29 188.95L538.61 188.95L538.93 188.95L539.26 188.95L539.58 188.96L539.90 188.96L540.23 188.96L540.55 188.96" fill="none" stroke="#053d05" stroke-width="2.1" stroke-linejoin="round"/><text transform="translate(44.05 265.00) scale(1 1.08)" font-size="9.3" text-anchor="middle" fill="#3c3c3c" stroke="#3c3c3c" stroke-width="0.3">0</text><text transform="translate(93.70 265.00) scale(1 1.08)" font-size="9.3" text-anchor="middle" fill="#3c3c3c" stroke="#3c3c3c" stroke-width="0.3">0.5</text><text transform="translate(143.35 265.00) scale(1 1.08)" font-size="9.3" text-anchor="middle" fill="#3c3c3c" stroke="#3c3c3c" stroke-width="0.3">1</text><text transform="translate(193.00 265.00) scale(1 1.08)" font-size="9.3" text-anchor="middle" fill="#3c3c3c" stroke="#3c3c3c" stroke-width="0.3">1.5</text><text transform="translate(242.65 265.00) scale(1 1.08)" font-size="9.3" text-anchor="middle" fill="#3c3c3c" stroke="#3c3c3c" stroke-width="0.3">2</text><text transform="translate(292.30 265.00) scale(1 1.08)" font-size="9.3" text-anchor="middle" fill="#3c3c3c" stroke="#3c3c3c" stroke-width="0.3">2.5</text><text transform="translate(341.95 265.00) scale(1 1.08)" font-size="9.3" text-anchor="middle" fill="#3c3c3c" stroke="#3c3c3c" stroke-width="0.3">3</text><text transform="translate(391.60 265.00) scale(1 1.08)" font-size="9.3" text-anchor="middle" fill="#3c3c3c" stroke="#3c3c3c" stroke-width="0.3">3.5</text><text transform="translate(441.25 265.00) scale(1 1.08)" font-size="9.3" text-anchor="middle" fill="#3c3c3c" stroke="#3c3c3c" stroke-width="0.3">4</text><text transform="translate(490.90 265.00) scale(1 1.08)" font-size="9.3" text-anchor="middle" fill="#3c3c3c" stroke="#3c3c3c" stroke-width="0.3">4.5</text><text transform="translate(540.55 265.00) scale(1 1.08)" font-size="9.3" text-anchor="middle" fill="#3c3c3c" stroke="#3c3c3c" stroke-width="0.3">5</text><text transform="translate(41.00 164.80) scale(1 1.08)" font-size="9.3" text-anchor="end" fill="#3c3c3c" stroke="#3c3c3c" stroke-width="0.3">1</text><text transform="translate(41.00 193.25) scale(1 1.08)" font-size="9.3" text-anchor="end" fill="#3c3c3c" stroke="#3c3c3c" stroke-width="0.3">0</text><text transform="translate(41.00 221.70) scale(1 1.08)" font-size="9.3" text-anchor="end" fill="#3c3c3c" stroke="#3c3c3c" stroke-width="0.3">-1</text><text transform="translate(41.00 250.15) scale(1 1.08)" font-size="9.3" text-anchor="end" fill="#3c3c3c" stroke="#3c3c3c" stroke-width="0.3">-2</text><text transform="translate(291.60 155.10) scale(1 1.0)" font-size="12.4" text-anchor="middle" font-weight="bold" fill="#000">Velocity of the unsprung mass.</text><text transform="translate(292.20 277.80) scale(1 1.0)" font-size="10" text-anchor="middle" fill="#3c3c3c" stroke="#3c3c3c" stroke-width="0.15">t. (s.)</text><text transform="translate(29.20 205.60) rotate(-90) scale(1 1.0)" font-size="10" text-anchor="middle" fill="#3c3c3c" stroke="#3c3c3c" stroke-width="0.15">v. (m/s)</text><rect x="452.5" y="164.5" width="84" height="33" fill="#fff" stroke="#a0a0a0" stroke-width="1"/><circle cx="461.2" cy="173.4" r="1.6" fill="none" stroke="#a4c894" stroke-width="0.9"/><line x1="453.8" y1="189.5" x2="469.2" y2="189.5" stroke="#1e2a36" stroke-width="1.6"/><text transform="translate(470.5 175.8) scale(1 1.05)" font-size="9.55" fill="#111" stroke="#111" stroke-width="0.2">Vel. m<tspan font-size="7.3" dy="3.9">2</tspan><tspan dy="-3.9">. (Real.)</tspan></text><text transform="translate(470.5 191.1) scale(1 1.05)" font-size="9.55" fill="#111" stroke="#111" stroke-width="0.2">Vel. m<tspan font-size="7.3" dy="3.9">2</tspan><tspan dy="-3.9">. (Est.)</tspan></text></g></svg>
</body></html>
